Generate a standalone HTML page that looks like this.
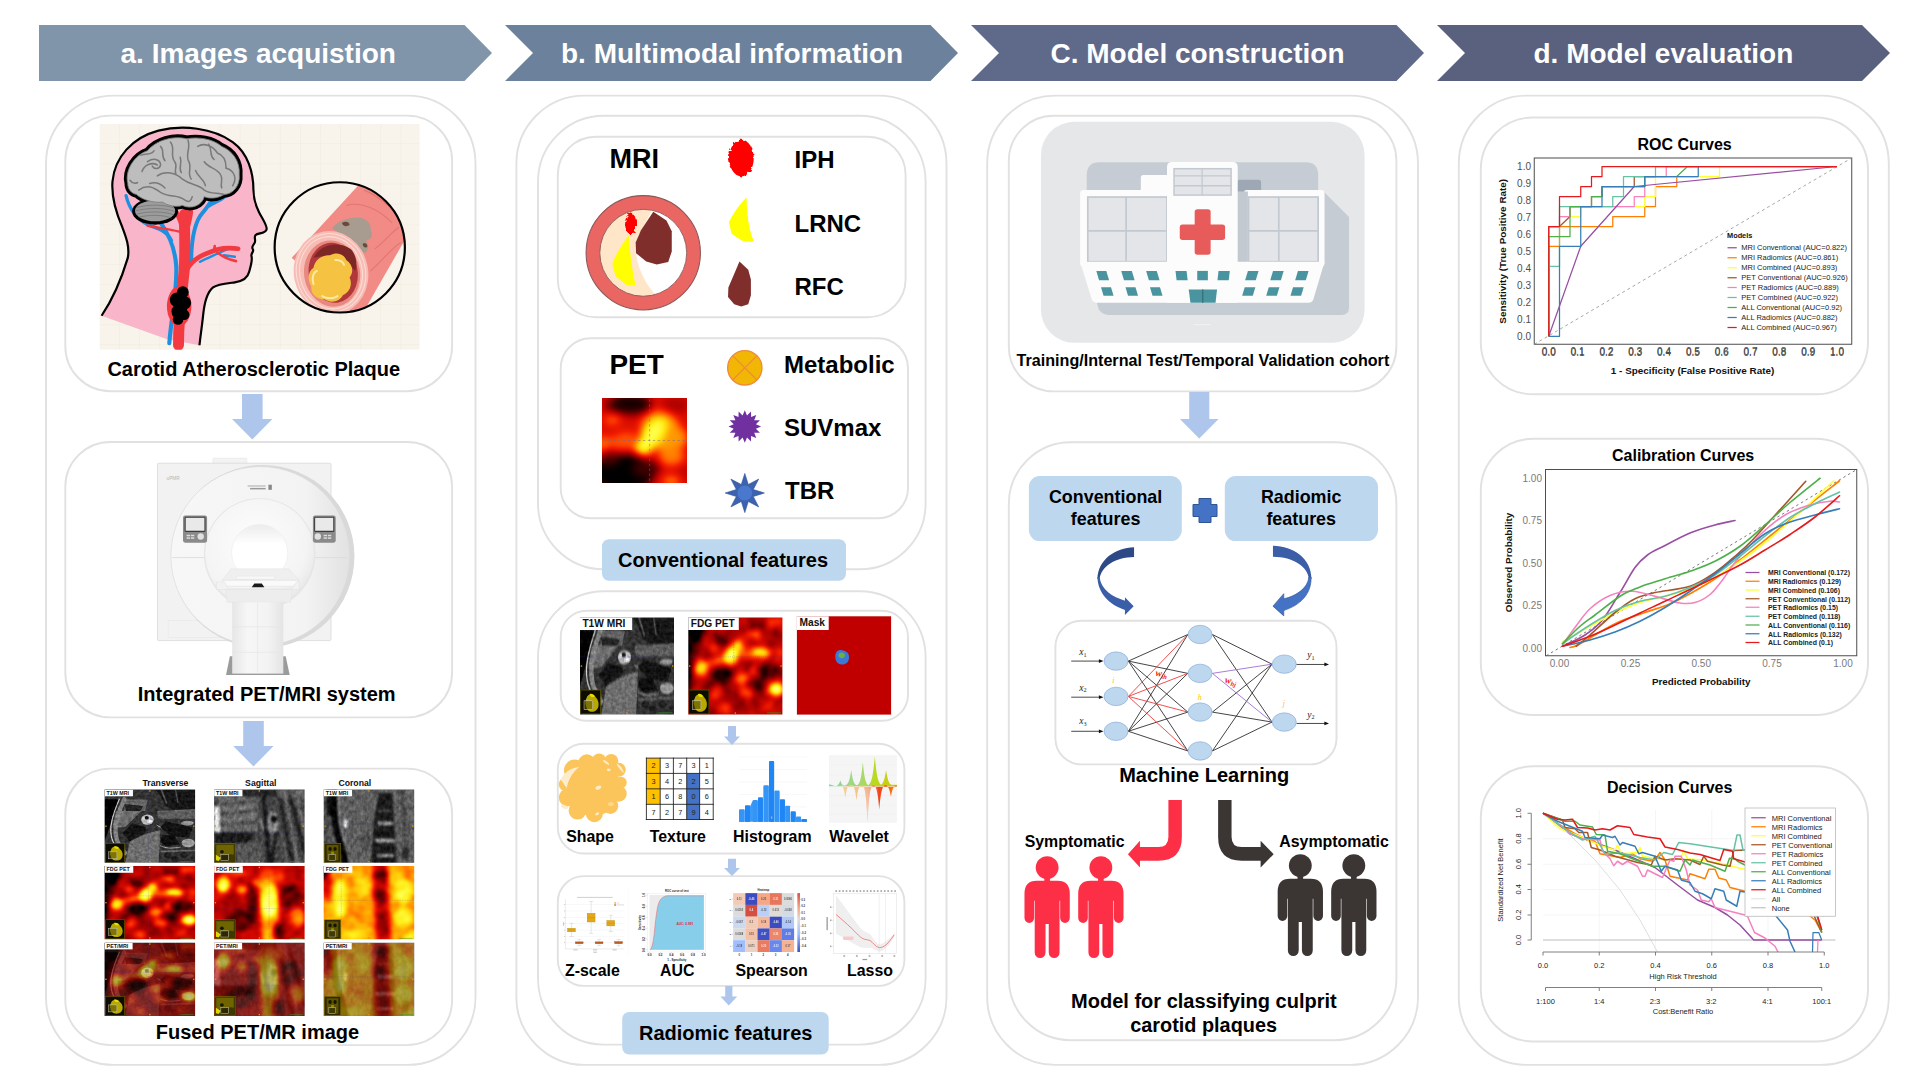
<!DOCTYPE html>
<html><head><meta charset="utf-8"><title>Workflow</title>
<style>
html,body{margin:0;padding:0;background:#fff;}
body{width:1920px;height:1080px;overflow:hidden;font-family:"Liberation Sans",sans-serif;}
svg text{font-family:"Liberation Sans",sans-serif;}
.b{font-weight:bold;}
.box{fill:#fff;stroke:#e1e1e1;stroke-width:1.9;}
</style></head><body>
<svg width="1920" height="1080" viewBox="0 0 1920 1080" style="display:block">
<!-- ===== header chevrons ===== -->
<polygon points="39,25 464.5,25 492,53 464.5,81 39,81" fill="#8094aa"/>
<polygon points="505,25 930.5,25 958,53 930.5,81 505,81 533,53" fill="#6c819c"/>
<polygon points="971,25 1396.5,25 1424,53 1396.5,81 971,81 999,53" fill="#5f6a8a"/>
<polygon points="1437,25 1862,25 1890,53 1862,81 1437,81 1465,53" fill="#59617f"/>
<g class="b" font-size="28" fill="#fff">
<text x="120.5" y="63">a. Images acquistion</text>
<text x="561" y="63">b. Multimodal information</text>
<text x="1050.5" y="63">C. Model construction</text>
<text x="1533.5" y="63">d. Model evaluation</text>
</g>
<!-- ===== outer panels ===== -->
<rect class="box" x="46" y="95.6" width="429.5" height="969.3" rx="68"/>
<rect class="box" x="516.4" y="95.6" width="430.1" height="969.3" rx="68"/>
<rect class="box" x="987.2" y="95.6" width="430.8" height="969.3" rx="68"/>
<rect class="box" x="1458.8" y="95.6" width="430" height="969.3" rx="68"/>
<!-- panel a boxes -->
<rect class="box" x="65.3" y="115.6" width="386.8" height="275.6" rx="45"/>
<rect class="box" x="65.3" y="442" width="386.8" height="275.4" rx="45"/>
<rect class="box" x="65.3" y="768.6" width="386.8" height="276.5" rx="45"/>
<!-- panel b boxes -->
<rect class="box" x="538" y="115.8" width="387.6" height="453.5" rx="66"/>
<rect class="box" x="557.8" y="136.8" width="347.8" height="180.5" rx="38"/>
<rect class="box" x="560.7" y="338.2" width="347.3" height="180.1" rx="30"/>
<rect class="box" x="538" y="591.3" width="387.6" height="453.3" rx="66"/>
<rect class="box" x="560.7" y="610.8" width="347.3" height="110" rx="26"/>
<rect class="box" x="557.8" y="743.7" width="346.6" height="109.8" rx="26"/>
<rect class="box" x="557.8" y="876.1" width="346.6" height="109.8" rx="26"/>
<!-- panel c boxes -->
<rect class="box" x="1008.8" y="115.7" width="387.6" height="275.7" rx="45"/>
<rect class="box" x="1008.8" y="442.2" width="387.6" height="598" rx="62"/>
<rect class="box" x="1055.4" y="620.8" width="281.1" height="143.6" rx="26"/>
<!-- panel d boxes -->
<rect class="box" x="1480.8" y="117.5" width="387.2" height="276.8" rx="52"/>
<rect class="box" x="1480.8" y="438.8" width="387.2" height="276.2" rx="52"/>
<rect class="box" x="1480.8" y="766.3" width="387.2" height="275.2" rx="52"/>
<!-- ===== block arrows ===== -->
<g fill="#aec6ec">
<polygon points="242,394 262.6,394 262.6,419 272.4,419 252.3,439.4 232,419 242,419"/>
<polygon points="243.2,721 263.8,721 263.8,746 273.6,746 253.5,766.5 233.2,746 243.2,746"/>
<polygon points="1189.2,392 1209.3,392 1209.3,419 1218.6,419 1199.2,438.5 1179.9,419 1189.2,419"/>
<polygon points="728,726 736,726 736,736.5 740,736.5 732,745 724,736.5 728,736.5"/>
<polygon points="728,858.8 736,858.8 736,868 740,868 732,876 724,868 728,868"/>
<polygon points="725.2,986 732.4,986 732.4,996.4 737.2,996.4 728.8,1005.5 720.4,996.4 725.2,996.4"/>
</g>
<!-- ===== label pills ===== -->
<rect x="602" y="539.3" width="244" height="41.4" rx="7" fill="#bdd7ee"/>
<rect x="622.2" y="1012" width="206.5" height="42.6" rx="7" fill="#bdd7ee"/>
<rect x="1028.9" y="476" width="152.9" height="65.1" rx="11" fill="#bdd7ee"/>
<rect x="1224.8" y="476" width="153.2" height="65.1" rx="11" fill="#bdd7ee"/>
<!-- ===== main labels ===== -->
<g class="b" fill="#000">
<g font-size="20">
<text x="107.4" y="375.8">Carotid Atherosclerotic Plaque</text>
<text x="137.8" y="700.5">Integrated PET/MRI system</text>
<text x="155.8" y="1039.2">Fused PET/MR image</text>
<text x="618" y="566.7">Conventional features</text>
<text x="639" y="1039.8">Radiomic features</text>
<text x="1119.2" y="781.8">Machine Learning</text>
<text x="1071.1" y="1008.1">Model for classifying culprit</text>
<text x="1130.3" y="1032.1" font-size="19.85">carotid plaques</text>
</g>
<text x="609.5" y="168" font-size="27">MRI</text>
<text x="609.5" y="374" font-size="27.9">PET</text>
<g font-size="24">
<text x="794.5" y="168.3">IPH</text>
<text x="794.5" y="231.6">LRNC</text>
<text x="794.5" y="295.2">RFC</text>
<text x="784" y="372.8">Metabolic</text>
<text x="784" y="436">SUVmax</text>
<text x="785" y="499">TBR</text>
</g>
<g font-size="15.9">
<text x="566.2" y="842">Shape</text>
<text x="649.7" y="842">Texture</text>
<text x="733" y="842">Histogram</text>
<text x="829.3" y="842">Wavelet</text>
<text x="565" y="975.6">Z-scale</text>
<text x="660" y="975.6">AUC</text>
<text x="735.4" y="975.6">Spearson</text>
<text x="847" y="975.6">Lasso</text>
<text x="1024.7" y="846.5">Symptomatic</text>
<text x="1279.3" y="846.5">Asymptomatic</text>
</g>
<text x="1016.6" y="366" font-size="16.13">Training/Internal Test/Temporal Validation cohort</text>
<g font-size="17.9" text-anchor="middle">
<text x="1105.6" y="503">Conventional</text>
<text x="1105.6" y="525.2">features</text>
<text x="1301.2" y="503">Radiomic</text>
<text x="1301.2" y="525.2">features</text>
</g>
<g font-size="16">
<text x="1637.5" y="149.6">ROC Curves</text>
<text x="1612" y="460.6">Calibration Curves</text>
<text x="1607" y="793.2">Decision Curves</text>
</g>
</g>

<!-- ===== panel a: head + plaque illustration ===== -->
<svg x="95" y="118" width="330" height="236" viewBox="0 0 1510 1080">
<defs>
<pattern id="gridp" width="92" height="92" patternUnits="userSpaceOnUse" x="22" y="28"><path d="M92 0V92M0 92H92" stroke="#ece6d8" stroke-width="3" fill="none"/></pattern>
<clipPath id="insetc"><circle cx="1120" cy="592" r="296"/></clipPath>
<clipPath id="imgc"><rect x="22" y="28" width="1463" height="1032"/></clipPath>
</defs>
<rect x="22" y="28" width="1463" height="1032" fill="#f8f4ec"/>
<rect x="22" y="28" width="1463" height="1032" fill="url(#gridp)"/>
<g clip-path="url(#imgc)">
<!-- head fill -->
<path d="M30,905C80,830 120,740 150,640C160,590 140,540 125,500C95,430 75,350 80,290C90,180 170,90 290,58C400,30 540,45 630,110C700,160 725,250 725,330C725,370 735,400 750,430C765,460 790,495 785,510C780,530 745,525 735,535C725,545 738,560 730,572C722,585 715,590 722,600C730,610 712,620 716,632C722,650 712,680 705,705C698,735 670,748 640,752C600,757 560,760 540,775C510,800 500,850 495,900C490,950 482,1000 478,1040L330,1012Z" fill="#f9b5c9"/>
<!-- veins behind -->
<g fill="none" stroke="#1e90e0" stroke-linecap="round">
<path d="M142,355C155,410 190,460 240,488C290,505 330,520 350,560" stroke-width="15"/>
<path d="M295,472C330,520 365,580 372,680C376,800 350,900 340,1030" stroke-width="19"/>
<path d="M600,355C570,380 540,388 520,402M537,365C530,395 500,420 480,450C450,500 440,580 440,665" stroke-width="18"/>
<path d="M480,658C520,640 560,620 600,602L640,592M590,628L640,635" stroke-width="11"/>
</g>
<!-- arteries -->
<g fill="none" stroke="#f23a40" stroke-linecap="round">
<path d="M382,1040C382,900 398,800 408,700C414,600 408,500 410,440" stroke-width="50"/>
<path d="M405,530C398,490 388,455 372,432M416,530C426,490 436,455 438,428" stroke-width="22"/>
<path d="M420,695C450,640 500,622 560,602C600,592 630,595 655,598" stroke-width="21"/>
<path d="M545,605L548,586M560,615C590,640 620,650 645,655" stroke-width="12"/>
<path d="M240,492C280,502 330,505 385,520" stroke-width="11"/>
</g>
<ellipse cx="385" cy="862" rx="56" ry="92" fill="#f23a40"/>
<g fill="#000"><circle cx="402" cy="797" r="27"/><circle cx="375" cy="832" r="33"/><circle cx="410" cy="846" r="30"/><circle cx="386" cy="886" r="36"/><circle cx="408" cy="900" r="24"/><circle cx="380" cy="922" r="24"/></g>
<!-- brain -->
<ellipse cx="275" cy="427" rx="105" ry="61" fill="#000"/>
<path d="M150,300C135,240 180,170 240,150C280,100 360,80 420,95C470,85 540,95 580,130C630,150 665,200 660,260C665,310 630,350 590,350C560,370 520,370 500,360C490,400 440,420 400,400C370,410 330,400 310,385C260,390 210,370 190,350C165,345 150,325 150,300Z" fill="#bdbdbd" stroke="#000" stroke-width="30" stroke-linejoin="round"/>
<ellipse cx="275" cy="425" rx="92" ry="48" fill="#9c9c9c"/>
<g fill="none" stroke="#6f6f6f" stroke-width="3"><path d="M190,410C240,395 320,395 362,412M186,425C240,410 320,410 366,428M190,440C240,426 320,426 362,444M200,454C250,442 310,442 350,458"/></g>
<path d="M150,300C135,240 180,170 240,150C280,100 360,80 420,95C470,85 540,95 580,130C630,150 665,200 660,260C665,310 630,350 590,350C560,370 520,370 500,360C490,400 440,420 400,400C370,410 330,400 310,385C260,390 210,370 190,350C165,345 150,325 150,300Z" fill="#bdbdbd" stroke="#7d7d7d" stroke-width="4"/>
<g fill="none" stroke="#7a7a7a" stroke-width="7" stroke-linecap="round">
<path d="M285,265C320,240 370,250 400,280C440,310 470,300 500,330C530,350 560,340 590,350"/>
<path d="M200,330C240,300 270,320 300,340C340,365 380,350 410,375C430,390 440,380 445,360"/>
<path d="M345,110C370,140 340,170 365,200C380,220 360,240 370,255"/>
<path d="M425,100C440,140 410,170 430,200C445,230 420,250 440,280"/>
<path d="M470,130C500,110 540,130 560,160C590,170 600,200 600,230"/>
<path d="M240,200C270,180 300,190 300,215C295,235 270,235 262,220M215,245C225,215 260,200 285,215"/>
<path d="M600,230C640,240 650,280 630,310M160,285C170,300 185,300 195,295"/>
<path d="M300,130C320,150 300,175 320,195M500,200C520,230 560,230 575,260C590,285 570,300 580,320M460,240C470,270 500,280 505,310M250,300C280,290 300,300 320,320M520,120C540,150 520,170 545,190M390,180C400,210 380,230 395,250M210,170C240,160 260,170 270,150"/>
</g>
<!-- head outline -->
<path d="M30,905C80,830 120,740 150,640C160,590 140,540 125,500C95,430 75,350 80,290C90,180 170,90 290,58C400,30 540,45 630,110C700,160 725,250 725,330C725,370 735,400 750,430C765,460 790,495 785,510C780,530 745,525 735,535C725,545 738,560 730,572C722,585 715,590 722,600C730,610 712,620 716,632C722,650 712,680 705,705C698,735 670,748 640,752C600,757 560,760 540,775C510,800 500,850 495,900C490,950 482,1000 478,1040" fill="none" stroke="#000" stroke-width="10" stroke-linejoin="round"/>
</g>
<!-- inset -->
<circle cx="1120" cy="592" r="298" fill="#f8f4ec"/>
<g clip-path="url(#insetc)">
<path d="M900,640L1240,270L1480,450L1210,920Z" fill="#f28b86"/>
<g fill="none" stroke="#e0706c" stroke-width="5" opacity=".8"><path d="M1150,400C1220,380 1300,420 1360,480M1230,330C1290,350 1340,400 1390,440M1280,600C1330,560 1360,520 1390,500M1260,700C1310,660 1350,600 1400,570"/></g>
<path d="M1085,505C1110,470 1160,455 1200,455C1240,455 1265,480 1262,515C1275,540 1260,560 1240,560C1260,590 1250,615 1230,618L1160,560Z" fill="#a89b8f"/>
<path d="M1130,480C1145,470 1165,475 1165,490C1150,500 1135,495 1130,480Z M1225,575C1240,570 1250,580 1245,592C1232,595 1225,588 1225,575Z" fill="#6b4a3a"/>
<ellipse cx="1080" cy="708" rx="170" ry="192" transform="rotate(-12 1080 708)" fill="#f7bdb5"/>
<g fill="none" stroke="#fbdcd5" stroke-width="5"><ellipse cx="1080" cy="708" rx="158" ry="180" transform="rotate(-12 1080 708)"/><ellipse cx="1080" cy="708" rx="143" ry="166" transform="rotate(-12 1080 708)"/></g>
<ellipse cx="1085" cy="712" rx="128" ry="152" transform="rotate(-10 1085 712)" fill="#e98880"/>
<ellipse cx="1090" cy="708" rx="112" ry="138" transform="rotate(-10 1090 708)" fill="#b0383a"/>
<path d="M1000,640C1030,580 1110,560 1170,600C1200,630 1200,680 1190,700C1150,640 1060,620 1000,640Z" fill="#7c2626"/>
<path d="M1075,628C1110,610 1140,625 1150,650C1180,670 1185,705 1165,730C1180,760 1165,800 1135,810C1120,840 1080,850 1050,830C1015,830 985,805 990,770C970,740 975,700 1000,685C1005,650 1040,625 1075,628Z" fill="#f5c242"/>
<path d="M1000,760C990,730 1000,705 1015,700M1040,815C1060,828 1090,828 1110,815M1100,650C1120,650 1135,660 1140,672" fill="none" stroke="#fde9a8" stroke-width="9" stroke-linecap="round"/>
</g>
<circle cx="1120" cy="592" r="298" fill="none" stroke="#000" stroke-width="10"/>
</svg>

<!-- ===== panel a: PET/MRI machine ===== -->
<svg x="150" y="450" width="220" height="230" viewBox="0 0 1033 1080">
<defs>
<linearGradient id="mg1" x1="0" y1="0" x2="1" y2="0"><stop offset="0" stop-color="#f7f7f7"/><stop offset=".75" stop-color="#f3f3f3"/><stop offset="1" stop-color="#e2e2e2"/></linearGradient>
<radialGradient id="mg2" cx=".45" cy=".4" r=".6"><stop offset="0" stop-color="#fdfdfd"/><stop offset=".8" stop-color="#f4f4f4"/><stop offset="1" stop-color="#e9e9e9"/></radialGradient>
<linearGradient id="mg3" x1="0" y1="0" x2="0" y2="1"><stop offset="0" stop-color="#ececec"/><stop offset=".35" stop-color="#fff"/><stop offset="1" stop-color="#fff"/></linearGradient>
<linearGradient id="mg4" x1="0" y1="0" x2="1" y2="0"><stop offset="0" stop-color="#e6e6e6"/><stop offset=".3" stop-color="#f6f6f6"/><stop offset=".7" stop-color="#f3f3f3"/><stop offset="1" stop-color="#e4e4e4"/></linearGradient>
</defs>
<rect x="295" y="38" width="160" height="30" rx="4" fill="#f3f3f3" stroke="#e2e2e2" stroke-width="2"/>
<rect x="35" y="62" width="815" height="833" rx="6" fill="#f2f2f2" stroke="#d6d6d6" stroke-width="3.5"/>
<rect x="85" y="800" width="300" height="80" fill="none" stroke="#e4e4e4" stroke-width="2"/>
<text x="78" y="140" font-size="22" fill="#b5b5b5">uPMR</text>
<circle cx="530" cy="500" r="430" fill="#d9d9d9"/>
<circle cx="518" cy="498" r="420" fill="url(#mg1)" stroke="#dadada" stroke-width="3"/>
<path d="M105,505H925" stroke="#dcdcdc" stroke-width="4"/>
<rect x="458" y="166" width="85" height="6" fill="#bbb"/><rect x="470" y="178" width="73" height="7" fill="#999"/><rect x="556" y="163" width="16" height="24" fill="#888"/>
<circle cx="515" cy="488" r="262" fill="#e6e6e6"/>
<circle cx="515" cy="486" r="258" fill="url(#mg2)" stroke="#e3e3e3" stroke-width="3"/>
<circle cx="515" cy="482" r="132" fill="url(#mg3)" stroke="#ececec" stroke-width="3"/>
<!-- control panels -->
<rect x="155" y="308" width="113" height="127" rx="10" fill="#8a8a8a"/><rect x="165" y="316" width="93" height="66" rx="3" fill="#e9e9e9" stroke="#3c3c3c" stroke-width="5"/><circle cx="238" cy="406" r="15" fill="#e0e0e0"/><rect x="172" y="398" width="16" height="7" fill="#ddd"/><rect x="192" y="398" width="16" height="7" fill="#ddd"/><rect x="172" y="410" width="16" height="7" fill="#ddd"/><rect x="192" y="410" width="16" height="7" fill="#ddd"/>
<rect x="765" y="308" width="107" height="127" rx="10" fill="#8a8a8a"/><rect x="773" y="316" width="90" height="66" rx="3" fill="#e9e9e9" stroke="#3c3c3c" stroke-width="5"/><circle cx="788" cy="406" r="15" fill="#e0e0e0"/><rect x="815" y="398" width="16" height="7" fill="#ddd"/><rect x="835" y="398" width="16" height="7" fill="#ddd"/><rect x="815" y="410" width="16" height="7" fill="#ddd"/><rect x="835" y="410" width="16" height="7" fill="#ddd"/>
<!-- table -->
<path d="M380,558H652L700,612H338Z" fill="#efefef" stroke="#e0e0e0" stroke-width="2"/>
<rect x="405" y="592" width="180" height="14" fill="#f8f8f8" stroke="#e2e2e2" stroke-width="2"/>
<path d="M338,612H700L672,640H360Z" fill="#fafafa" stroke="#d8d8d8" stroke-width="2"/>
<path d="M312,620H350L365,650H668L690,620H700V655H312Z" fill="#f2f2f2" stroke="#dfdfdf" stroke-width="2"/>
<path d="M478,645L490,627H525L537,645Z" fill="#1a1a1a"/>
<path d="M355,655H668L660,715H362Z" fill="#ededed" stroke="#e0e0e0" stroke-width="2"/>
<path d="M375,968H637L656,1056H357Z" fill="#9b9b9b"/>
<rect x="386" y="715" width="240" height="335" fill="url(#mg4)"/>
<path d="M386,830H626M386,950H626M505,715V1050" stroke="#e4e4e4" stroke-width="3"/>
</svg>

<!-- ===== filters for medical images ===== -->
<defs>
<filter id="hotf" x="-80" y="-80" width="703" height="599" filterUnits="userSpaceOnUse" color-interpolation-filters="sRGB">
<feGaussianBlur in="SourceGraphic" stdDeviation="17" result="b"/>
<feTurbulence type="fractalNoise" baseFrequency="0.011 0.013" numOctaves="2" seed="7" result="n"/>
<feColorMatrix in="n" type="matrix" values="1 0 0 0 0 1 0 0 0 0 1 0 0 0 0 0 0 0 0 1" result="ng"/>
<feComposite in="b" in2="ng" operator="arithmetic" k1="0" k2="1" k3="0.3" k4="-0.15" result="m"/>
<feComponentTransfer in="m">
<feFuncR type="table" tableValues="0 .32 .6 .82 .95 1 1 1 1 1 1"/>
<feFuncG type="table" tableValues="0 0 0 .03 .12 .32 .55 .78 .93 1 1"/>
<feFuncB type="table" tableValues="0 0 0 0 0 0 0 .03 .1 .3 .6"/>
</feComponentTransfer>
</filter>
<filter id="mrif" x="-80" y="-80" width="703" height="599" filterUnits="userSpaceOnUse" color-interpolation-filters="sRGB">
<feGaussianBlur in="SourceGraphic" stdDeviation="4.5" result="b"/>
<feTurbulence type="fractalNoise" baseFrequency="0.05 0.06" numOctaves="3" seed="3" result="n"/>
<feColorMatrix in="n" type="matrix" values="1 0 0 0 0 1 0 0 0 0 1 0 0 0 0 0 0 0 0 1" result="ng"/>
<feComposite in="b" in2="ng" operator="arithmetic" k1="0.3" k2="0.85" k3="0.16" k4="-0.08"/>
</filter>
<filter id="mrif2" x="-80" y="-80" width="703" height="599" filterUnits="userSpaceOnUse" color-interpolation-filters="sRGB">
<feGaussianBlur in="SourceGraphic" stdDeviation="5" result="b"/>
<feTurbulence type="fractalNoise" baseFrequency="0.05 0.032" numOctaves="3" seed="11" result="n"/>
<feColorMatrix in="n" type="matrix" values="1 0 0 0 0 1 0 0 0 0 1 0 0 0 0 0 0 0 0 1" result="ng"/>
<feComposite in="b" in2="ng" operator="arithmetic" k1="0.4" k2="0.8" k3="0.16" k4="-0.08"/>
</filter>

<symbol id="mT" viewBox="0 0 543 439" preserveAspectRatio="none"><g filter="url(#mrif)"><rect x="-80" y="-80" width="703" height="599" fill="#333333"/><polygon points="123,60 259,60 243,128 118,128" fill="#666666"/><polygon points="118,86 232,99 215,128 129,128" fill="#212121"/><polygon points="69,128 221,128 123,226 48,226" fill="#6e6e6e"/><polygon points="307,0 543,0 543,116 421,128 362,94 335,39" fill="#171717"/><path d="M340,0 L372,80" fill="none" stroke="#545454" stroke-width="10" stroke-linecap="round"/><path d="M425,0 L440,75" fill="none" stroke="#474747" stroke-width="9" stroke-linecap="round"/><polygon points="313,128 543,116 543,175 324,175" fill="#5e5e5e"/><polygon points="0,58 88,58 0,311" fill="#000000"/><path d="M118,58 C69,167 53,226 75,307 C85,330 100,350 123,380" fill="none" stroke="#808080" stroke-width="26" stroke-linecap="round"/><path d="M88,58 C42,167 29,226 42,286 C50,320 70,350 95,400" fill="none" stroke="#cccccc" stroke-width="7" stroke-linecap="round"/><polygon points="167,201 248,226 243,260 151,311 107,260" fill="#141414"/><polygon points="151,311 248,265 335,243 324,445 123,445" fill="#6e6e6e"/><ellipse cx="257" cy="180" rx="38" ry="31" fill="#c2c2c2"/><ellipse cx="253" cy="169" rx="12" ry="11" fill="#0f0f0f"/><ellipse cx="268" cy="190" rx="14" ry="10" fill="#e6e6e6"/><path d="M313,213 L367,243 L400,265" fill="none" stroke="#b2b2b2" stroke-width="5" stroke-linecap="round"/><polygon points="367,192 529,226 508,286 400,282 335,226" fill="#121212"/><ellipse cx="497" cy="201" rx="38" ry="14" fill="#999999"/><ellipse cx="502" cy="320" rx="40" ry="25" fill="#999999"/><polygon points="345,269 421,277 448,328 367,341 335,311" fill="#0f0f0f"/><path d="M335,337 C360,350 400,356 454,345" fill="none" stroke="#b2b2b2" stroke-width="5" stroke-linecap="round"/><ellipse cx="378" cy="396" rx="22" ry="17" fill="#1f1f1f"/><ellipse cx="421" cy="415" rx="22" ry="17" fill="#1f1f1f"/><ellipse cx="475" cy="392" rx="22" ry="17" fill="#1f1f1f"/><ellipse cx="520" cy="420" rx="20" ry="15" fill="#262626"/><path d="M340,370 L543,365" fill="none" stroke="#666666" stroke-width="10" stroke-linecap="round"/></g></symbol>
<symbol id="mS" viewBox="0 0 543 439" preserveAspectRatio="none"><g filter="url(#mrif2)"><rect x="-80" y="-80" width="703" height="599" fill="#454545"/><polygon points="170,0 380,0 380,45 170,45" fill="#262626"/><polygon points="380,0 543,0 543,55 380,50" fill="#616161"/><polygon points="26,42 263,42 263,255 26,262" fill="#666666"/><path d="M40,90 L250,70 M30,150 L255,125 M40,215 L255,190" fill="none" stroke="#474747" stroke-width="12" stroke-linecap="round"/><path d="M60,120 L240,100 M60,185 L250,160" fill="none" stroke="#808080" stroke-width="8" stroke-linecap="round"/><polygon points="0,100 30,100 38,300 0,310" fill="#e6e6e6"/><polygon points="0,270 25,275 20,330 0,335" fill="#d9d9d9"/><polygon points="0,258 257,255 200,318 0,325" fill="#1a1a1a"/><polygon points="128,320 296,320 296,445 128,445" fill="#545454"/><polygon points="0,330 128,322 128,445 0,445" fill="#383838"/><path d="M298,48 L332,445" fill="none" stroke="#141414" stroke-width="24" stroke-linecap="round"/><path d="M280,177 L292,236" fill="none" stroke="#ebebeb" stroke-width="6" stroke-linecap="round"/><ellipse cx="352" cy="200" rx="34" ry="70" fill="#858585"/><ellipse cx="360" cy="177" rx="19" ry="19" fill="#050505"/><path d="M372,262 C362,320 352,370 348,445" fill="none" stroke="#1a1a1a" stroke-width="18" stroke-linecap="round"/><path d="M395,60 L470,445 M455,40 L543,380" fill="none" stroke="#1f1f1f" stroke-width="20" stroke-linecap="round"/><path d="M430,60 L505,445 M500,60 L543,250" fill="none" stroke="#757575" stroke-width="13" stroke-linecap="round"/><path d="M405,250 L440,445" fill="none" stroke="#5c5c5c" stroke-width="10" stroke-linecap="round"/></g></symbol>
<symbol id="mC" viewBox="0 0 543 439" preserveAspectRatio="none"><g filter="url(#mrif2)"><rect x="-80" y="-80" width="703" height="599" fill="#5e5e5e"/><polygon points="0,0 36,0 36,445 0,445" fill="#474747"/><path d="M62,-10 C55,120 62,220 100,330 C115,370 125,410 130,450" fill="none" stroke="#050505" stroke-width="40" stroke-linecap="round"/><path d="M92,0 C84,120 92,220 128,330" fill="none" stroke="#a8a8a8" stroke-width="6" stroke-linecap="round"/><path d="M30,-10 C28,60 30,100 34,150" fill="none" stroke="#080808" stroke-width="20" stroke-linecap="round"/><ellipse cx="131" cy="203" rx="12" ry="28" fill="#e0e0e0"/><polygon points="330,20 410,20 440,445 285,445 300,200" fill="#1a1a1a"/><polygon points="325,192 412,192 415,214 323,214" fill="#999999"/><polygon points="312,295 425,295 428,318 310,318" fill="#9e9e9e"/><polygon points="322,385 418,385 420,405 320,405" fill="#858585"/><polygon points="330,120 400,120 402,134 329,134" fill="#4c4c4c"/><path d="M470,0 L500,445" fill="none" stroke="#3d3d3d" stroke-width="14" stroke-linecap="round"/><path d="M520,180 L543,160" fill="none" stroke="#808080" stroke-width="5" stroke-linecap="round"/><ellipse cx="490" cy="380" rx="18" ry="40" fill="#1f1f1f"/><ellipse cx="250" cy="300" rx="25" ry="60" fill="#4c4c4c"/></g></symbol>
<symbol id="pT" viewBox="0 0 543 439" preserveAspectRatio="none"><g filter="url(#hotf)"><rect x="-80" y="-80" width="703" height="599" fill="#3b3b3b"/><polygon points="-80,-80 95,-80 95,50 48,167 28,243 14,340 -80,360" fill="#000000"/><path d="M72,226 L245,175" fill="none" stroke="#8c8c8c" stroke-width="40" stroke-linecap="round"/><path d="M245,170 L425,156" fill="none" stroke="#a8a8a8" stroke-width="32" stroke-linecap="round"/><ellipse cx="202" cy="99" rx="40" ry="18" fill="#0d0d0d"/><ellipse cx="202" cy="252" rx="62" ry="40" fill="#0a0a0a"/><ellipse cx="463" cy="243" rx="66" ry="35" fill="#0d0d0d"/><ellipse cx="397" cy="303" rx="50" ry="27" fill="#0d0d0d"/><ellipse cx="311" cy="396" rx="34" ry="22" fill="#212121"/><ellipse cx="408" cy="31" rx="44" ry="22" fill="#242424"/><ellipse cx="120" cy="300" rx="30" ry="30" fill="#262626"/><ellipse cx="387" cy="77" rx="40" ry="18" fill="#9e9e9e"/><ellipse cx="305" cy="277" rx="33" ry="26" fill="#9e9e9e"/><ellipse cx="338" cy="341" rx="44" ry="22" fill="#999999"/><ellipse cx="159" cy="350" rx="28" ry="26" fill="#808080"/><ellipse cx="213" cy="413" rx="28" ry="18" fill="#8f8f8f"/><ellipse cx="148" cy="137" rx="28" ry="18" fill="#808080"/><ellipse cx="381" cy="239" rx="17" ry="22" fill="#808080"/><ellipse cx="500" cy="22" rx="52" ry="22" fill="#8c8c8c"/><ellipse cx="530" cy="170" rx="30" ry="40" fill="#737373"/><ellipse cx="470" cy="400" rx="40" ry="25" fill="#666666"/><ellipse cx="245" cy="175" rx="36" ry="40" fill="#f7f7f7" transform="rotate(25 245 175)"/><ellipse cx="289" cy="128" rx="30" ry="25" fill="#dbdbdb"/><ellipse cx="425" cy="156" rx="46" ry="18" fill="#ffffff"/><ellipse cx="72" cy="226" rx="33" ry="35" fill="#dbdbdb"/><ellipse cx="506" cy="324" rx="46" ry="27" fill="#fcfcfc"/></g></symbol>
<symbol id="pS" viewBox="0 0 543 439" preserveAspectRatio="none"><g filter="url(#hotf)"><rect x="-80" y="-80" width="703" height="599" fill="#454545"/><ellipse cx="55" cy="110" rx="36" ry="48" fill="#ebebeb"/><path d="M320,120 L345,460" fill="none" stroke="#a8a8a8" stroke-width="110" stroke-linecap="round"/><ellipse cx="330" cy="215" rx="52" ry="95" fill="#f2f2f2"/><ellipse cx="350" cy="60" rx="80" ry="40" fill="#808080"/><ellipse cx="235" cy="210" rx="38" ry="130" fill="#1a1a1a"/><ellipse cx="455" cy="180" rx="65" ry="70" fill="#1a1a1a"/><ellipse cx="390" cy="400" rx="38" ry="60" fill="#1a1a1a"/><ellipse cx="140" cy="330" rx="85" ry="70" fill="#1f1f1f"/><ellipse cx="520" cy="60" rx="50" ry="50" fill="#4c4c4c"/><ellipse cx="170" cy="140" rx="32" ry="28" fill="#a8a8a8"/><ellipse cx="255" cy="100" rx="25" ry="22" fill="#999999"/><ellipse cx="500" cy="310" rx="45" ry="60" fill="#8c8c8c"/><ellipse cx="60" cy="250" rx="60" ry="35" fill="#333333"/><ellipse cx="40" cy="400" rx="50" ry="50" fill="#4c4c4c"/><ellipse cx="120" cy="40" rx="70" ry="25" fill="#737373"/></g></symbol>
<symbol id="pC" viewBox="0 0 543 439" preserveAspectRatio="none"><g filter="url(#hotf)"><rect x="-80" y="-80" width="703" height="599" fill="#a1a1a1"/><polygon points="-80,-80 40,-80 30,90 -80,100" fill="#000000"/><ellipse cx="20" cy="130" rx="28" ry="80" fill="#404040"/><path d="M335,-20 L360,460" fill="none" stroke="#424242" stroke-width="85" stroke-linecap="round"/><ellipse cx="340" cy="60" rx="45" ry="40" fill="#1a1a1a"/><ellipse cx="345" cy="180" rx="45" ry="30" fill="#1f1f1f"/><ellipse cx="350" cy="290" rx="45" ry="28" fill="#262626"/><ellipse cx="355" cy="390" rx="40" ry="30" fill="#2e2e2e"/><ellipse cx="100" cy="200" rx="38" ry="110" fill="#e6e6e6"/><ellipse cx="480" cy="150" rx="55" ry="70" fill="#d9d9d9"/><ellipse cx="470" cy="310" rx="50" ry="60" fill="#d1d1d1"/><ellipse cx="230" cy="120" rx="50" ry="60" fill="#bfbfbf"/><ellipse cx="230" cy="380" rx="60" ry="50" fill="#b2b2b2"/><ellipse cx="160" cy="420" rx="70" ry="30" fill="#c7c7c7"/><ellipse cx="520" cy="420" rx="40" ry="30" fill="#cccccc"/><ellipse cx="430" cy="60" rx="40" ry="40" fill="#bfbfbf"/></g></symbol>
<symbol id="thA" viewBox="0 0 100 100" preserveAspectRatio="none"><rect width="100" height="100" fill="#0d0c00" stroke="#7d7000" stroke-width="4"/><path d="M30,35C35,15 65,12 75,30C95,45 95,80 70,88C50,95 30,85 28,65C22,55 25,42 30,35Z" fill="#b8a800"/><path d="M45,18C55,14 66,18 70,28C60,32 48,30 45,18Z" fill="#e8dc00"/><rect x="18" y="45" width="42" height="36" fill="#5a5200" fill-opacity=".6" stroke="#c9c9c9" stroke-width="2.5"/></symbol>
<symbol id="thB" viewBox="0 0 100 100" preserveAspectRatio="none"><rect width="100" height="100" fill="#3f3900" stroke="#8a7c00" stroke-width="4"/><path d="M8,8H92V60C70,50 50,70 30,62L8,80Z" fill="#6e6400"/><path d="M6,60L30,75L20,92L6,88Z" fill="#e2d600"/><circle cx="35" cy="45" r="9" fill="#1a1700"/><rect x="30" y="58" width="36" height="32" fill="#1a1700" fill-opacity=".5" stroke="#d0d0d0" stroke-width="2.5"/></symbol>
<symbol id="thC" viewBox="0 0 100 100" preserveAspectRatio="none"><rect width="100" height="100" fill="#2e2900" stroke="#8a7c00" stroke-width="4"/><path d="M15,10H85V90H15Z" fill="#5c5300"/><circle cx="35" cy="30" r="10" fill="#171500"/><circle cx="65" cy="30" r="10" fill="#171500"/><path d="M42,45H58V60H42Z" fill="#9a8d00"/><rect x="28" y="58" width="38" height="32" fill="#1a1700" fill-opacity=".4" stroke="#d0d0d0" stroke-width="2.5"/></symbol>
</defs>
<!-- ===== panel a: 3x3 grid ===== -->
<g class="b" font-size="8.7" text-anchor="middle" fill="#111"><text x="165.5" y="785.5">Transverse</text><text x="260.8" y="785.5">Sagittal</text><text x="354.8" y="785.5">Coronal</text></g>
<svg x="104.6" y="789.6" width="90.5" height="73.2" viewBox="0 0 543 439" preserveAspectRatio="none" overflow="hidden">
<use href="#mT" width="543" height="439"/>
<path d="M262,0V439M0,178H543" stroke="#3b3bb0" stroke-width="2" stroke-dasharray="5 5" opacity=".7"/>
<g fill="#e09a00"><rect x="267.5" y="4" width="8" height="8"/><rect x="267.5" y="427" width="8" height="8"/><rect x="4" y="215.5" width="8" height="8"/><rect x="531" y="215.5" width="8" height="8"/></g>
<rect x="453" y="431" width="80" height="3" fill="#3a9a2a"/>
<use href="#thA" x="3" y="321" width="118" height="116"/>
<rect x="0" y="0" width="170" height="40" fill="#fff"/><text x="12" y="30" font-size="32" font-weight="bold" fill="#111">T1W MRI</text>
</svg>
<svg x="104.6" y="866.1" width="90.5" height="73.2" viewBox="0 0 543 439" preserveAspectRatio="none" overflow="hidden">
<use href="#pT" width="543" height="439"/>
<path d="M262,0V439M0,178H543" stroke="#3b3bb0" stroke-width="2" stroke-dasharray="5 5" opacity=".7"/>
<g fill="#e09a00"><rect x="267.5" y="4" width="8" height="8"/><rect x="267.5" y="427" width="8" height="8"/><rect x="4" y="215.5" width="8" height="8"/><rect x="531" y="215.5" width="8" height="8"/></g>
<rect x="453" y="431" width="80" height="3" fill="#3a9a2a"/>
<use href="#thA" x="3" y="321" width="118" height="116"/>
<rect x="0" y="0" width="172" height="40" fill="#fff"/><text x="12" y="30" font-size="32" font-weight="bold" fill="#111">FDG PET</text>
</svg>
<svg x="104.6" y="942.7" width="90.5" height="73.2" viewBox="0 0 543 439" preserveAspectRatio="none" overflow="hidden">
<use href="#mT" width="543" height="439"/><use href="#pT" width="543" height="439" opacity=".6"/>
<rect width="543" height="439" fill="#3a1000" opacity=".15"/>
<path d="M262,0V439M0,178H543" stroke="#3b3bb0" stroke-width="2" stroke-dasharray="5 5" opacity=".7"/>
<g fill="#e09a00"><rect x="267.5" y="4" width="8" height="8"/><rect x="267.5" y="427" width="8" height="8"/><rect x="4" y="215.5" width="8" height="8"/><rect x="531" y="215.5" width="8" height="8"/></g>
<rect x="453" y="431" width="80" height="3" fill="#3a9a2a"/>
<use href="#thA" x="3" y="321" width="118" height="116"/>
<rect x="0" y="0" width="168" height="40" fill="#fff"/><text x="12" y="30" font-size="32" font-weight="bold" fill="#111">PET/MRI</text>
</svg>
<svg x="214.1" y="789.6" width="90.5" height="73.2" viewBox="0 0 543 439" preserveAspectRatio="none" overflow="hidden">
<use href="#mS" width="543" height="439"/>
<path d="M330,0V439M0,255H543" stroke="#3b3bb0" stroke-width="2" stroke-dasharray="5 5" opacity=".7"/>
<g fill="#e09a00"><rect x="267.5" y="4" width="8" height="8"/><rect x="267.5" y="427" width="8" height="8"/><rect x="4" y="215.5" width="8" height="8"/><rect x="531" y="215.5" width="8" height="8"/></g>
<rect x="453" y="431" width="80" height="3" fill="#3a9a2a"/>
<use href="#thB" x="3" y="321" width="125" height="116"/>
<rect x="0" y="0" width="170" height="40" fill="#fff"/><text x="12" y="30" font-size="32" font-weight="bold" fill="#111">T1W MRI</text>
</svg>
<svg x="214.1" y="866.1" width="90.5" height="73.2" viewBox="0 0 543 439" preserveAspectRatio="none" overflow="hidden">
<use href="#pS" width="543" height="439"/>
<path d="M330,0V439M0,255H543" stroke="#3b3bb0" stroke-width="2" stroke-dasharray="5 5" opacity=".7"/>
<g fill="#e09a00"><rect x="267.5" y="4" width="8" height="8"/><rect x="267.5" y="427" width="8" height="8"/><rect x="4" y="215.5" width="8" height="8"/><rect x="531" y="215.5" width="8" height="8"/></g>
<rect x="453" y="431" width="80" height="3" fill="#3a9a2a"/>
<use href="#thB" x="3" y="321" width="125" height="116"/>
<rect x="0" y="0" width="172" height="40" fill="#fff"/><text x="12" y="30" font-size="32" font-weight="bold" fill="#111">FDG PET</text>
</svg>
<svg x="214.1" y="942.7" width="90.5" height="73.2" viewBox="0 0 543 439" preserveAspectRatio="none" overflow="hidden">
<use href="#mS" width="543" height="439"/><use href="#pS" width="543" height="439" opacity=".6"/>
<rect width="543" height="439" fill="#3a1000" opacity=".15"/>
<path d="M330,0V439M0,255H543" stroke="#3b3bb0" stroke-width="2" stroke-dasharray="5 5" opacity=".7"/>
<g fill="#e09a00"><rect x="267.5" y="4" width="8" height="8"/><rect x="267.5" y="427" width="8" height="8"/><rect x="4" y="215.5" width="8" height="8"/><rect x="531" y="215.5" width="8" height="8"/></g>
<rect x="453" y="431" width="80" height="3" fill="#3a9a2a"/>
<use href="#thB" x="3" y="321" width="125" height="116"/>
<rect x="0" y="0" width="168" height="40" fill="#fff"/><text x="12" y="30" font-size="32" font-weight="bold" fill="#111">PET/MRI</text>
</svg>
<svg x="323.7" y="789.6" width="90.5" height="73.2" viewBox="0 0 543 439" preserveAspectRatio="none" overflow="hidden">
<use href="#mC" width="543" height="439"/>
<path d="M105,0V439M0,205H543" stroke="#3b3bb0" stroke-width="2" stroke-dasharray="5 5" opacity=".7"/>
<g fill="#e09a00"><rect x="267.5" y="4" width="8" height="8"/><rect x="267.5" y="427" width="8" height="8"/><rect x="4" y="215.5" width="8" height="8"/><rect x="531" y="215.5" width="8" height="8"/></g>
<rect x="453" y="431" width="80" height="3" fill="#3a9a2a"/>
<use href="#thC" x="3" y="321" width="100" height="116"/>
<rect x="0" y="0" width="170" height="40" fill="#fff"/><text x="12" y="30" font-size="32" font-weight="bold" fill="#111">T1W MRI</text>
</svg>
<svg x="323.7" y="866.1" width="90.5" height="73.2" viewBox="0 0 543 439" preserveAspectRatio="none" overflow="hidden">
<use href="#pC" width="543" height="439"/>
<path d="M105,0V439M0,205H543" stroke="#3b3bb0" stroke-width="2" stroke-dasharray="5 5" opacity=".7"/>
<g fill="#e09a00"><rect x="267.5" y="4" width="8" height="8"/><rect x="267.5" y="427" width="8" height="8"/><rect x="4" y="215.5" width="8" height="8"/><rect x="531" y="215.5" width="8" height="8"/></g>
<rect x="453" y="431" width="80" height="3" fill="#3a9a2a"/>
<use href="#thC" x="3" y="321" width="100" height="116"/>
<rect x="0" y="0" width="172" height="40" fill="#fff"/><text x="12" y="30" font-size="32" font-weight="bold" fill="#111">FDG PET</text>
</svg>
<svg x="323.7" y="942.7" width="90.5" height="73.2" viewBox="0 0 543 439" preserveAspectRatio="none" overflow="hidden">
<use href="#mC" width="543" height="439"/><use href="#pC" width="543" height="439" opacity=".6"/>
<rect width="543" height="439" fill="#3a1000" opacity=".15"/>
<path d="M105,0V439M0,205H543" stroke="#3b3bb0" stroke-width="2" stroke-dasharray="5 5" opacity=".7"/>
<g fill="#e09a00"><rect x="267.5" y="4" width="8" height="8"/><rect x="267.5" y="427" width="8" height="8"/><rect x="4" y="215.5" width="8" height="8"/><rect x="531" y="215.5" width="8" height="8"/></g>
<rect x="453" y="431" width="80" height="3" fill="#3a9a2a"/>
<use href="#thC" x="3" y="321" width="100" height="116"/>
<rect x="0" y="0" width="168" height="40" fill="#fff"/><text x="12" y="30" font-size="32" font-weight="bold" fill="#111">PET/MRI</text>
</svg>
<!-- ===== panel b: MRI legend ===== -->
<svg x="575" y="130" width="200" height="190" viewBox="0 0 1137 1080">
<defs><clipPath id="lumc"><circle cx="388" cy="698" r="247"/></clipPath>
<filter id="fuzz" x="-20%" y="-20%" width="140%" height="140%"><feTurbulence type="fractalNoise" baseFrequency="0.045" numOctaves="2" seed="4"/><feDisplacementMap in="SourceGraphic" scale="26"/></filter></defs>
<circle cx="388" cy="698" r="325" fill="#e96663" stroke="#8c5757" stroke-width="6"/>
<circle cx="388" cy="698" r="247" fill="#ffe6c9"/>
<g clip-path="url(#lumc)">
<path d="M445,440C400,540 340,610 345,680C352,780 400,880 470,950L700,950L700,440Z" fill="#fff"/>
<path d="M445,465L520,515L550,575L550,690L530,750L465,765L405,748L347,700L345,640L375,570Z" fill="#7f2e2c"/>
<path d="M305,600C260,660 225,720 212,762L230,830L290,880L345,885C325,800 312,700 305,600Z" fill="#ffff00"/>
<ellipse cx="317" cy="533" rx="32" ry="60" fill="#ff0000" filter="url(#fuzz)"/>
</g>
<circle cx="388" cy="698" r="247" fill="none" stroke="#8c5757" stroke-width="5"/>
<ellipse cx="946" cy="160" rx="70" ry="104" fill="#ff0000" filter="url(#fuzz)"/>
<path d="M975,382C930,430 895,480 875,525L890,590L950,630L1000,636L1015,628C985,560 978,470 975,382Z" fill="#ffff00"/>
<path d="M935,748L985,795L1000,850L1000,940L985,990L945,1003L905,990L870,950L872,895L900,830Z" fill="#7f2e2c"/>
</svg>
<!-- ===== panel b: PET legend ===== -->
<svg x="602" y="398" width="85" height="85" viewBox="0 0 482 482" overflow="hidden">
<defs><filter id="hotf2" x="-80" y="-80" width="642" height="642" filterUnits="userSpaceOnUse" color-interpolation-filters="sRGB">
<feGaussianBlur in="SourceGraphic" stdDeviation="24" result="b"/>
<feComponentTransfer in="b">
<feFuncR type="table" tableValues="0 .32 .6 .82 .95 1 1 1 1 1 1"/>
<feFuncG type="table" tableValues="0 0 0 .03 .12 .32 .55 .78 .93 1 1"/>
<feFuncB type="table" tableValues="0 0 0 0 0 0 0 .03 .1 .3 .6"/>
</feComponentTransfer></filter></defs>
<g filter="url(#hotf2)"><rect x="-80" y="-80" width="642" height="642" fill="#545454"/><ellipse cx="420" cy="40" rx="80" ry="50" fill="#3d3d3d"/><ellipse cx="60" cy="40" rx="60" ry="50" fill="#333333"/><ellipse cx="330" cy="185" rx="115" ry="110" fill="#a3a3a3" transform="rotate(36 330 185)"/><ellipse cx="423" cy="227" rx="62" ry="62" fill="#9e9e9e"/><ellipse cx="394" cy="331" rx="72" ry="50" fill="#949494"/><ellipse cx="59" cy="123" rx="46" ry="32" fill="#858585"/><ellipse cx="5" cy="261" rx="32" ry="50" fill="#8f8f8f"/><ellipse cx="394" cy="472" rx="50" ry="25" fill="#9e9e9e"/><ellipse cx="140" cy="230" rx="60" ry="40" fill="#808080"/><ellipse cx="163" cy="34" rx="118" ry="62" fill="#080808"/><ellipse cx="122" cy="425" rx="180" ry="112" fill="#000000"/><ellipse cx="250" cy="400" rx="80" ry="50" fill="#141414"/><ellipse cx="40" cy="340" rx="60" ry="40" fill="#1a1a1a"/><ellipse cx="470" cy="420" rx="40" ry="50" fill="#474747"/><ellipse cx="292" cy="200" rx="50" ry="95" fill="#e6e6e6" transform="rotate(36 292 200)"/><ellipse cx="235" cy="275" rx="50" ry="46" fill="#e6e6e6"/><ellipse cx="120" cy="250" rx="90" ry="45" fill="#808080"/></g>
<path d="M270,8V482M8,241H482" stroke="#6a6ab0" stroke-width="3.2" stroke-dasharray="14 14" opacity=".85"/>
</svg>
<g>
<circle cx="744.8" cy="367.8" r="17.2" fill="#f2b705" stroke="#ee8a3c" stroke-width="1.3"/><path d="M732.6,355.6L757,380M757,355.6L732.6,380" stroke="#ee8a3c" stroke-width="1.2"/>
<polygon points="744.8,410.2 747.0,415.4 751.0,411.4 751.1,417.1 756.3,415.0 754.2,420.2 759.9,420.3 755.9,424.3 761.1,426.5 755.9,428.7 759.9,432.7 754.2,432.8 756.3,438.0 751.1,435.9 751.0,441.6 747.0,437.6 744.8,442.8 742.6,437.6 738.6,441.6 738.5,435.9 733.3,438.0 735.4,432.8 729.7,432.7 733.7,428.7 728.5,426.5 733.7,424.3 729.7,420.3 735.4,420.2 733.3,415.0 738.5,417.1 738.6,411.4 742.6,415.4" fill="#7030a0"/>
<polygon points="744.8,473.4 748.3,484.5 758.7,479.1 753.3,489.5 764.4,493.0 753.3,496.5 758.7,506.9 748.3,501.5 744.8,512.6 741.3,501.5 730.9,506.9 736.3,496.5 725.2,493.0 736.3,489.5 730.9,479.1 741.3,484.5" fill="#3c62b0" stroke="#2f5597" stroke-width=".6"/><circle cx="744.8" cy="493" r="7.4" fill="#4a78cc"/>
</g>
<!-- ===== panel b: image row ===== -->
<svg x="580" y="617.5" width="94" height="97.1" viewBox="0 0 543 439" preserveAspectRatio="none" overflow="hidden"><use href="#mT" width="543" height="439"/><path d="M262,0V439M0,178H543" stroke="#3b3bb0" stroke-width="2" stroke-dasharray="6 6" opacity=".7"/><g fill="#e09a00"><rect x="267.5" y="429" width="8" height="6"/><rect x="4" y="216.5" width="8" height="6"/><rect x="531" y="216.5" width="8" height="6"/></g><rect x="453" y="430" width="82" height="3" fill="#3a9a2a"/><use href="#thA" x="2" y="327" width="118" height="110"/></svg><rect x="580" y="617.5" width="52.2" height="12.5" fill="#fff"/><text x="582.4" y="627.1" font-size="10.2" font-weight="bold" fill="#111">T1W MRI</text>
<svg x="688.3" y="617.5" width="94.1" height="97.1" viewBox="0 0 543 439" preserveAspectRatio="none" overflow="hidden"><use href="#pT" width="543" height="439"/><path d="M262,0V439M0,178H543" stroke="#3b3bb0" stroke-width="2" stroke-dasharray="6 6" opacity=".7"/><g fill="#e09a00"><rect x="267.5" y="429" width="8" height="6"/><rect x="4" y="216.5" width="8" height="6"/><rect x="531" y="216.5" width="8" height="6"/></g><rect x="453" y="430" width="82" height="3" fill="#3a9a2a"/><use href="#thA" x="2" y="327" width="118" height="110"/></svg><rect x="688.3" y="617.5" width="50.5" height="12.5" fill="#fff"/><text x="690.6999999999999" y="627.1" font-size="10.2" font-weight="bold" fill="#111">FDG PET</text>
<rect x="796.9" y="616.3" width="94.2" height="98.3" fill="#c00000"/><rect x="796.9" y="616.3" width="31.8" height="13.7" fill="#fff"/><text x="799.5" y="625.6" font-size="10.2" font-weight="bold" fill="#111">Mask</text>
<path d="M835.3,657C835,652 838,649.5 842,650.2C846.5,650.5 849.5,653.5 849,657.5C849,662 846,664.5 842,664.5C838,664.5 835.3,661.5 835.3,657Z" fill="#3c78d8"/><ellipse cx="841.7" cy="655.3" rx="3.2" ry="2.9" fill="#6ab040"/>
<!-- ===== panel b: feature row (shape/texture/histogram/wavelet) ===== -->
<svg x="555" y="745" width="180" height="85" viewBox="0 0 1920 907">
<g fill="#fbc55b"><circle cx="400" cy="460" r="300"/><circle cx="210" cy="270" r="115"/><circle cx="340" cy="195" r="95"/><circle cx="470" cy="165" r="75"/><circle cx="600" cy="170" r="75"/><circle cx="680" cy="265" r="75"/><circle cx="705" cy="400" r="60"/><circle cx="680" cy="520" r="85"/><circle cx="590" cy="650" r="85"/><circle cx="420" cy="735" r="90"/><circle cx="240" cy="700" r="95"/><circle cx="135" cy="560" r="95"/><circle cx="115" cy="420" r="75"/></g>
<g fill="#fdeccb"><path d="M60,370C90,300 170,240 260,235C180,290 140,380 125,460C100,430 90,400 60,370Z"/><ellipse cx="545" cy="185" rx="38" ry="12" transform="rotate(35 545 185)"/><ellipse cx="573" cy="265" rx="20" ry="14"/><path d="M655,195C690,210 725,250 735,300C700,270 670,240 655,195Z"/><ellipse cx="462" cy="455" rx="32" ry="20" transform="rotate(-20 462 455)"/><ellipse cx="100" cy="660" rx="40" ry="18" transform="rotate(25 100 660)"/><ellipse cx="450" cy="735" rx="22" ry="14" transform="rotate(-25 450 735)"/></g>
<ellipse cx="595" cy="630" rx="32" ry="22" fill="#fdd88a"/>
<rect x="975" y="140" width="713" height="655" fill="#fff"/>
<rect x="975" y="140" width="147" height="493" fill="#ffc000"/>
<rect x="1405" y="303" width="138" height="492" fill="#4472c4"/>
<path d="M975,140V795M1122,140V795M1263,140V795M1405,140V795M1543,140V795M1688,140V795M975,140H1688M975,303H1688M975,468H1688M975,633H1688M975,795H1688" stroke="#1a1a1a" stroke-width="9" fill="none" stroke-linecap="square"/>
<g font-size="78" text-anchor="middle" fill="#222">
<text x="1051.5" y="249.5">2</text>
<text x="1195.5" y="249.5">3</text>
<text x="1337.0" y="249.5">7</text>
<text x="1477.0" y="249.5">3</text>
<text x="1618.5" y="249.5">1</text>
<text x="1051.5" y="413.5">3</text>
<text x="1195.5" y="413.5">4</text>
<text x="1337.0" y="413.5">2</text>
<text x="1477.0" y="413.5">2</text>
<text x="1618.5" y="413.5">5</text>
<text x="1051.5" y="578.5">1</text>
<text x="1195.5" y="578.5">6</text>
<text x="1337.0" y="578.5">8</text>
<text x="1477.0" y="578.5">0</text>
<text x="1618.5" y="578.5">6</text>
<text x="1051.5" y="742.0">7</text>
<text x="1195.5" y="742.0">2</text>
<text x="1337.0" y="742.0">7</text>
<text x="1477.0" y="742.0">9</text>
<text x="1618.5" y="742.0">4</text>
</g></svg>
<svg x="730" y="745" width="180" height="85" viewBox="0 0 1920 907">
<rect x="97" y="118" width="723" height="702" fill="#fff"/><path d="M97,128H820M97,262H820M97,395H820M97,528H820M97,660H820" stroke="#eef0f3" stroke-width="5"/>
<path d="M213,655L245,588V820H213Z" fill="#3b9af7"/>
<rect x="97" y="685" width="58" height="135" rx="6" fill="#3595f7"/><rect x="97" y="695" width="58" height="125" fill="#3595f7"/>
<rect x="160" y="642" width="53" height="178" rx="6" fill="#1e86f5"/><rect x="160" y="652" width="53" height="168" fill="#1e86f5"/>
<rect x="245" y="588" width="50" height="232" rx="6" fill="#3595f7"/><rect x="245" y="598" width="50" height="222" fill="#3595f7"/>
<rect x="300" y="558" width="50" height="262" rx="6" fill="#1e86f5"/><rect x="300" y="568" width="50" height="252" fill="#1e86f5"/>
<rect x="358" y="430" width="54" height="390" rx="6" fill="#3595f7"/><rect x="358" y="440" width="54" height="380" fill="#3595f7"/>
<rect x="417" y="172" width="53" height="648" rx="6" fill="#1e86f5"/><rect x="417" y="182" width="53" height="638" fill="#1e86f5"/>
<rect x="475" y="485" width="52" height="335" rx="6" fill="#3595f7"/><rect x="475" y="495" width="52" height="325" fill="#3595f7"/>
<rect x="533" y="578" width="52" height="242" rx="6" fill="#1e86f5"/><rect x="533" y="588" width="52" height="232" fill="#1e86f5"/>
<rect x="590" y="648" width="50" height="172" rx="6" fill="#3595f7"/><rect x="590" y="658" width="50" height="162" fill="#3595f7"/>
<rect x="648" y="708" width="52" height="112" rx="6" fill="#1e86f5"/><rect x="648" y="718" width="52" height="102" fill="#1e86f5"/>
<rect x="705" y="762" width="52" height="58" rx="6" fill="#3595f7"/><rect x="705" y="772" width="52" height="48" fill="#3595f7"/>
<rect x="762" y="790" width="58" height="30" rx="6" fill="#1e86f5"/><rect x="762" y="800" width="58" height="20" fill="#1e86f5"/>
<rect x="436" y="762" width="14" height="24" fill="#9bb7c9"/>
<defs><linearGradient id="wvu" x1="1057" x2="1780" gradientUnits="userSpaceOnUse"><stop offset="0" stop-color="#8ed4a0"/><stop offset=".45" stop-color="#a5d87a"/><stop offset=".7" stop-color="#bcd916"/><stop offset="1" stop-color="#d2c410"/></linearGradient>
<linearGradient id="wvd" x1="1057" x2="1780" gradientUnits="userSpaceOnUse"><stop offset="0" stop-color="#f8d9a0"/><stop offset=".5" stop-color="#f5c08a"/><stop offset=".62" stop-color="#f3a08a"/><stop offset=".74" stop-color="#f2431c"/><stop offset="1" stop-color="#f28a12"/></linearGradient>
<linearGradient id="wvf" x1="0" y1="432" x2="0" y2="830" gradientUnits="userSpaceOnUse"><stop offset="0" stop-color="#fff" stop-opacity="0"/><stop offset="1" stop-color="#fff" stop-opacity=".55"/></linearGradient></defs>
<rect x="1057" y="108" width="723" height="722" fill="#f5f5f5"/><path d="M1057,210H1780M1057,320H1780M1057,540H1780M1057,640H1780M1057,740H1780" stroke="#ececec" stroke-width="4"/>
<path d="M1127,432C1159.5,432 1168.0,403.5 1177,375C1186.0,403.5 1194.5,432 1227,432ZM1225,432C1269.2,432 1280.76,350.0 1293,268C1305.24,350.0 1316.8,432 1361,432ZM1347,432C1392.5,432 1404.4,308.5 1417,185C1429.6,308.5 1441.5,432 1487,432ZM1463,432C1516.3,432 1530.24,277.0 1545,122C1559.76,277.0 1573.7,432 1627,432ZM1589,432C1638.4,432 1651.32,351.0 1665,270C1678.68,351.0 1691.6,432 1741,432ZM1057,420C1100,425 1110,450 1150,432L1780,425V440H1057Z" fill="url(#wvu)"/>
<path d="M1174,426C1210.4,426 1219.92,494.0 1230,562C1240.08,494.0 1249.6,426 1286,426ZM1292,426C1329.7,426 1339.56,509.0 1350,592C1360.44,509.0 1370.3,426 1408,426ZM1406,426C1446.3,426 1456.84,624.0 1468,822C1479.16,624.0 1489.7,426 1530,426ZM1525,426C1569.2,426 1580.76,557.0 1593,688C1605.24,557.0 1616.8,426 1661,426ZM1651,426C1693.9,426 1705.12,489.0 1717,552C1728.88,489.0 1740.1,426 1783,426ZM1200,426H1780V446H1200Z" fill="url(#wvd)"/>
<path d="M1413,432C1448.75,432 1458.1,627.0 1468,822C1477.9,627.0 1487.25,432 1523,432Z" fill="url(#wvf)"/>
</svg>
<!-- ===== panel b: filter row (z-scale/auc/spearson/lasso) ===== -->
<svg x="555" y="880" width="180" height="85" viewBox="0 0 1920 907">
<rect x="235" y="180" width="380" height="12" fill="#c9c9c9" opacity=".8"/>
<path d="M110,262H740M110,330H740M110,400H740M110,465H740M110,535H740M110,602H740M110,668H740" stroke="#ebebeb" stroke-width="4"/>
<path d="M110,205V735H740" stroke="#d6d6d6" stroke-width="5" fill="none"/>
<path d="M176.0,463V603M154.0,463H198.0M154.0,603H198.0" stroke="#bdbdbd" stroke-width="4"/><rect x="135" y="515" width="82" height="38" fill="#e3a818" stroke="#b98a10" stroke-width="4"/><path d="M135,534.0H217" stroke="#b98a10" stroke-width="4"/>
<path d="M385.0,230V570M363.0,230H407.0M363.0,570H407.0" stroke="#bdbdbd" stroke-width="4"/><rect x="343" y="355" width="84" height="93" fill="#e3a818" stroke="#b98a10" stroke-width="4"/><path d="M343,401.5H427" stroke="#b98a10" stroke-width="4"/>
<path d="M595.0,378V550M573.0,378H617.0M573.0,550H617.0" stroke="#bdbdbd" stroke-width="4"/><rect x="553" y="432" width="84" height="58" fill="#e3a818" stroke="#b98a10" stroke-width="4"/><path d="M553,461.0H637" stroke="#b98a10" stroke-width="4"/>
<path d="M258.5,633V700M236.5,633H280.5M236.5,700H280.5" stroke="#bdbdbd" stroke-width="4"/><rect x="217" y="660" width="83" height="20" fill="#c0602a" stroke="#a8521f" stroke-width="4"/><path d="M217,670.0H300" stroke="#a8521f" stroke-width="4"/>
<path d="M470.0,633V700M448.0,633H492.0M448.0,700H492.0" stroke="#bdbdbd" stroke-width="4"/><rect x="428" y="660" width="84" height="20" fill="#c0602a" stroke="#a8521f" stroke-width="4"/><path d="M428,670.0H512" stroke="#a8521f" stroke-width="4"/>
<path d="M678.5,635V703M656.5,635H700.5M656.5,703H700.5" stroke="#bdbdbd" stroke-width="4"/><rect x="637" y="657" width="83" height="23" fill="#c0602a" stroke="#a8521f" stroke-width="4"/><path d="M637,668.5H720" stroke="#a8521f" stroke-width="4"/>
<rect x="632" y="238" width="18" height="14" fill="#e3a818"/><rect x="632" y="260" width="18" height="14" fill="#c0602a"/><rect x="656" y="262" width="80" height="9" fill="#d9d9d9"/><rect x="656" y="241" width="30" height="9" fill="#d9d9d9"/>
<g fill="#c4c4c4"><rect x="195" y="740" width="45" height="11"/><rect x="405" y="740" width="45" height="11"/><rect x="613" y="740" width="45" height="11"/><rect x="408" y="765" width="40" height="11"/><rect x="95" y="258" width="10" height="9"/><rect x="95" y="326" width="10" height="9"/><rect x="95" y="396" width="10" height="9"/><rect x="95" y="461" width="10" height="9"/><rect x="95" y="531" width="10" height="9"/><rect x="95" y="598" width="10" height="9"/><rect x="95" y="664" width="10" height="9"/><rect x="84" y="450" width="10" height="40"/></g>
<path d="M782,95V805" stroke="#f0f0f0" stroke-width="3"/>
<rect x="985" y="143" width="623" height="625" fill="#fff" stroke="#e2e2e2" stroke-width="4"/>
<rect x="1008" y="160" width="582" height="587" fill="#ebebeb"/>
<path d="M1015,745C1040,720 1050,640 1060,560C1072,440 1085,310 1105,250C1125,195 1160,170 1200,168H1588V745Z" fill="#87ceeb"/><path d="M1015,745L1588,168" stroke="#a9bfcb" stroke-width="3"/><path d="M1015,745C1040,720 1050,640 1060,560C1072,440 1085,310 1105,250C1125,195 1160,170 1200,168H1588" fill="none" stroke="#f0686a" stroke-width="6"/>
<text x="1385" y="478" font-size="34" font-weight="bold" fill="#e02838" text-anchor="middle">AUC: 0.991</text>
<text x="1300" y="127" font-size="30" font-weight="bold" fill="#222" text-anchor="middle">ROC curve of test</text>
<g font-size="32" font-weight="bold" fill="#222" text-anchor="middle"><text x="1010" y="816">0.0</text><text x="1125" y="816">0.2</text><text x="1240" y="816">0.4</text><text x="1355" y="816">0.6</text><text x="1470" y="816">0.8</text><text x="1585" y="816">1.0</text><text x="1300" y="860">1 - Specificity</text></g>
<g font-size="32" font-weight="bold" fill="#222" text-anchor="middle"><text transform="translate(955 160) rotate(-90)">1.0</text><text transform="translate(955 280) rotate(-90)">0.8</text><text transform="translate(955 400) rotate(-90)">0.6</text><text transform="translate(955 515) rotate(-90)">0.4</text><text transform="translate(955 630) rotate(-90)">0.2</text><text transform="translate(955 745) rotate(-90)">0.0</text><text transform="translate(915 455) rotate(-90)">Sensitivity</text></g>
<path d="M1010,768v12M1125,768v12M1240,768v12M1355,768v12M1470,768v12M1585,768v12M985,160h-12M985,280h-12M985,400h-12M985,515h-12M985,630h-12M985,745h-12" stroke="#888" stroke-width="3"/>
</svg>
<svg x="720" y="880" width="180" height="85" viewBox="0 0 1920 907">
<rect x="140" y="140.0" width="130.5" height="126.1" fill="#f2cbb7"/>
<rect x="270" y="140.0" width="130.5" height="126.1" fill="#3b4cc0"/>
<rect x="400" y="140.0" width="130.5" height="126.1" fill="#f4a886"/>
<rect x="530" y="140.0" width="130.5" height="126.1" fill="#e8765c"/>
<rect x="660" y="140.0" width="130.5" height="126.1" fill="#dddcdc"/>
<rect x="140" y="265.6" width="130.5" height="126.1" fill="#dddcdc"/>
<rect x="270" y="265.6" width="130.5" height="126.1" fill="#d44e41"/>
<rect x="400" y="265.6" width="130.5" height="126.1" fill="#b9d0f9"/>
<rect x="530" y="265.6" width="130.5" height="126.1" fill="#e2dad5"/>
<rect x="660" y="265.6" width="130.5" height="126.1" fill="#d5dbe5"/>
<rect x="140" y="391.2" width="130.5" height="126.1" fill="#ccd9ee"/>
<rect x="270" y="391.2" width="130.5" height="126.1" fill="#f2cbb7"/>
<rect x="400" y="391.2" width="130.5" height="126.1" fill="#f5b89c"/>
<rect x="530" y="391.2" width="130.5" height="126.1" fill="#3b4cc0"/>
<rect x="660" y="391.2" width="130.5" height="126.1" fill="#afc8f8"/>
<rect x="140" y="516.8" width="130.5" height="126.1" fill="#dddcdc"/>
<rect x="270" y="516.8" width="130.5" height="126.1" fill="#f4c0a6"/>
<rect x="400" y="516.8" width="130.5" height="126.1" fill="#3e51c5"/>
<rect x="530" y="516.8" width="130.5" height="126.1" fill="#ee8669"/>
<rect x="660" y="516.8" width="130.5" height="126.1" fill="#5e7de6"/>
<rect x="140" y="642.4" width="130.5" height="126.1" fill="#9ebeff"/>
<rect x="270" y="642.4" width="130.5" height="126.1" fill="#edd1c2"/>
<rect x="400" y="642.4" width="130.5" height="126.1" fill="#ea7b60"/>
<rect x="530" y="642.4" width="130.5" height="126.1" fill="#6788ee"/>
<rect x="660" y="642.4" width="130.5" height="126.1" fill="#f5b394"/>
<g font-size="28" text-anchor="middle" font-weight="bold">
<text x="205.0" y="211" fill="#444" opacity=".85">0.11</text>
<text x="335.0" y="211" fill="#f4f4f4" opacity=".85">-0.46</text>
<text x="465.0" y="211" fill="#444" opacity=".85">0.23</text>
<text x="595.0" y="211" fill="#f4f4f4" opacity=".85">0.31</text>
<text x="725.0" y="211" fill="#444" opacity=".85">0.0086</text>
<text x="205.0" y="336" fill="#444" opacity=".85">0.0013</text>
<text x="335.0" y="336" fill="#f4f4f4" opacity=".85">0.4</text>
<text x="465.0" y="336" fill="#444" opacity=".85">-0.12</text>
<text x="595.0" y="336" fill="#444" opacity=".85">0.013</text>
<text x="725.0" y="336" fill="#444" opacity=".85">-0.028</text>
<text x="205.0" y="462" fill="#444" opacity=".85">-0.067</text>
<text x="335.0" y="462" fill="#444" opacity=".85">0.1</text>
<text x="465.0" y="462" fill="#444" opacity=".85">0.18</text>
<text x="595.0" y="462" fill="#f4f4f4" opacity=".85">-0.46</text>
<text x="725.0" y="462" fill="#444" opacity=".85">-0.14</text>
<text x="205.0" y="588" fill="#444" opacity=".85">0.0068</text>
<text x="335.0" y="588" fill="#444" opacity=".85">0.15</text>
<text x="465.0" y="588" fill="#f4f4f4" opacity=".85">-0.47</text>
<text x="595.0" y="588" fill="#f4f4f4" opacity=".85">0.28</text>
<text x="725.0" y="588" fill="#f4f4f4" opacity=".85">-0.36</text>
<text x="205.0" y="713" fill="#444" opacity=".85">-0.18</text>
<text x="335.0" y="713" fill="#444" opacity=".85">0.071</text>
<text x="465.0" y="713" fill="#f4f4f4" opacity=".85">0.29</text>
<text x="595.0" y="713" fill="#f4f4f4" opacity=".85">-0.32</text>
<text x="725.0" y="713" fill="#444" opacity=".85">0.17</text>
</g>
<defs><linearGradient id="cwb" x1="0" y1="0" x2="0" y2="1"><stop offset="0" stop-color="#d44e41"/><stop offset=".25" stop-color="#f4a886"/><stop offset=".45" stop-color="#dddcdc"/><stop offset=".7" stop-color="#9ebeff"/><stop offset="1" stop-color="#3b4cc0"/></linearGradient></defs><rect x="825" y="140" width="28" height="628" fill="url(#cwb)"/>
<g font-size="30" fill="#333" font-weight="bold"><text x="462" y="122" text-anchor="middle">Heatmap</text><text x="866" y="219">0.3</text><text x="866" y="289">0.2</text><text x="866" y="361">0.1</text><text x="866" y="431">0.0</text><text x="866" y="502">-0.1</text><text x="866" y="572">-0.2</text><text x="866" y="642">-0.3</text><text x="866" y="714">-0.4</text><text x="205" y="808" text-anchor="middle">0</text><text x="335" y="808" text-anchor="middle">1</text><text x="462" y="808" text-anchor="middle">2</text><text x="593" y="808" text-anchor="middle">3</text><text x="722" y="808" text-anchor="middle">4</text><text x="108" y="210" text-anchor="middle" font-size="26">0</text><text x="108" y="335" text-anchor="middle" font-size="26">1</text><text x="108" y="460" text-anchor="middle" font-size="26">2</text><text x="108" y="585" text-anchor="middle" font-size="26">3</text><text x="108" y="712" text-anchor="middle" font-size="26">4</text></g>
<path d="M853,210h10M853,280h10M853,352h10M853,422h10M853,493h10M853,563h10M853,633h10M853,705h10M124,203h14M124,328h14M124,454h14M124,580h14M124,705h14" stroke="#666" stroke-width="3"/>
<rect x="1210" y="145" width="675" height="637" fill="#fff" stroke="#dcdcdc" stroke-width="5"/>
<path d="M1240,172C1330,290 1420,420 1500,520C1540,560 1580,560 1610,590C1640,640 1670,690 1705,688C1760,680 1810,620 1860,575L1860,605C1810,680 1760,750 1705,760C1670,760 1640,720 1600,720C1560,725 1530,725 1500,715C1410,670 1320,610 1240,570Z" fill="#efefef" stroke="#e3e3e3" stroke-width="3"/>
<path d="M1698,150V780M1765,150V780" stroke="#d9d9d9" stroke-width="4"/>
<rect x="1312" y="603" width="113" height="37" rx="12" fill="#f8cbcb"/>
<path d="M1240,370C1300,420 1350,465 1400,512C1440,550 1470,585 1500,610C1530,635 1560,635 1600,645C1630,665 1660,715 1700,722C1740,722 1780,690 1800,662C1820,640 1840,612 1856,588" fill="none" stroke="#f06464" stroke-width="8" stroke-linecap="round"/>
<g fill="#9a9a9a"><rect x="1230" y="110" width="18" height="16"/><rect x="1267" y="110" width="18" height="16"/><rect x="1304" y="110" width="18" height="16"/><rect x="1341" y="110" width="18" height="16"/><rect x="1378" y="110" width="18" height="16"/><rect x="1415" y="110" width="18" height="16"/><rect x="1452" y="110" width="18" height="16"/><rect x="1489" y="110" width="18" height="16"/><rect x="1526" y="110" width="18" height="16"/><rect x="1563" y="110" width="18" height="16"/><rect x="1600" y="110" width="18" height="16"/><rect x="1637" y="110" width="18" height="16"/><rect x="1674" y="110" width="18" height="16"/><rect x="1711" y="110" width="18" height="16"/><rect x="1748" y="110" width="18" height="16"/><rect x="1785" y="110" width="18" height="16"/><rect x="1822" y="110" width="18" height="16"/><rect x="1859" y="110" width="18" height="16"/><rect x="1175" y="282" width="14" height="16"/><rect x="1175" y="422" width="14" height="16"/><rect x="1175" y="562" width="14" height="16"/><rect x="1175" y="700" width="14" height="16"/><rect x="1315" y="804" width="20" height="14"/><rect x="1450" y="804" width="20" height="14"/><rect x="1585" y="804" width="20" height="14"/><rect x="1720" y="804" width="20" height="14"/><rect x="1850" y="804" width="20" height="14"/><rect x="1520" y="842" width="50" height="13"/><rect x="1136" y="395" width="14" height="140"/></g>
<path d="M1196,290h14M1196,430h14M1196,570h14M1196,708h14M1325,782v10M1460,782v10M1595,782v10M1730,782v10M1860,782v10" stroke="#aaa" stroke-width="3"/>
</svg>
<!-- ===== panel c: hospital ===== -->
<svg x="1035" y="118" width="340" height="230" viewBox="0 0 1597 1080">
<rect x="28" y="18" width="1520" height="1037" rx="155" fill="#e6e7e9"/>
<path d="M243,268Q243,208 303,208H1270Q1330,208 1330,268V345L1360,350L1475,465V890Q1475,925 1440,925H350Q320,925 300,900L243,700Z" fill="#c6ccd3"/>
<rect x="950" y="290" width="112" height="70" rx="12" fill="#9da8b4"/>
<rect x="497" y="268" width="140" height="90" rx="12" fill="#fcfcfc"/>
<rect x="212" y="338" width="430" height="360" rx="16" fill="#fcfcfc"/>
<rect x="980" y="338" width="380" height="360" rx="16" fill="#fcfcfc"/>
<rect x="952" y="345" width="48" height="335" fill="#c3c9d0"/>
<rect x="248" y="371" width="372" height="304" fill="#e4e5e8" stroke="#c3c9d0" stroke-width="8"/><path d="M428,371V675M248,530H620" stroke="#c3c9d0" stroke-width="8"/>
<rect x="1003" y="371" width="327" height="304" fill="#e4e5e8" stroke="#c3c9d0" stroke-width="8"/><path d="M1145,371V675M1003,530H1330" stroke="#c3c9d0" stroke-width="8"/>
<path d="M212,675H1360L1308,850Q1302,868 1285,868H290Q272,868 266,850Z" fill="#fcfcfc"/>
<path d="M620,230Q620,207 643,207H929Q952,207 952,230V868H620Z" fill="#fcfcfc"/>
<rect x="653" y="238" width="268" height="124" fill="#e4e5e8" stroke="#c3c9d0" stroke-width="7"/><path d="M785,238V362M653,272H921M653,318H921" stroke="#c3c9d0" stroke-width="6"/>
<rect x="750" y="428" width="75" height="214" rx="13" fill="#e85b5b"/><rect x="680" y="500" width="213" height="73" rx="13" fill="#e85b5b"/>
<g fill="#4a94a0"><polygon points="288,718 335,718 348,762 301,762"/><polygon points="405,718 455,718 468,762 418,762"/><polygon points="522,718 572,718 585,762 535,762"/><polygon points="660,718 712,718 717,762 665,762"/><polygon points="762,718 812,718 812,762 762,762"/><polygon points="862,718 915,718 910,762 857,762"/><polygon points="1000,718 1050,718 1037,762 987,762"/><polygon points="1118,718 1168,718 1155,762 1105,762"/><polygon points="1235,718 1285,718 1272,762 1222,762"/><polygon points="310,795 357,795 369,835 322,835"/><polygon points="425,795 472,795 484,835 437,835"/><polygon points="540,795 587,795 599,835 552,835"/><polygon points="985,795 1035,795 1023,835 973,835"/><polygon points="1098,795 1148,795 1136,835 1086,835"/><polygon points="1212,795 1262,795 1250,835 1200,835"/><polygon points="722,805 855,805 848,868 730,868"/></g><path d="M788,805V868" stroke="#356f7a" stroke-width="6"/>
<rect x="745" y="968" width="80" height="5" rx="2" fill="#eef0f1"/>
</svg>
<!-- plus -->
<path d="M1199,498.5h12v6h6v12h-6v6h-12v-6h-6v-12h6z" fill="#4472c4" stroke="#2f5597" stroke-width="1"/>
<!-- ===== panel c: curved arrows ===== -->
<svg x="1080" y="540" width="250" height="85" viewBox="0 0 1920 653">
<path d="M415,55C270,60 136,150 134,300L150,300C160,205 270,132 415,130Z" fill="#2e4a86"/>
<path d="M134,285C134,400 220,500 345,537L345,577L412,508L345,440L345,466C250,440 160,380 150,285Z" fill="#3a5fa8"/>
<path d="M1482,45C1640,50 1777,140 1778,300L1758,300C1752,205 1640,130 1482,128Z" fill="#3b5ea6"/>
<path d="M1775,285C1778,420 1690,500 1565,542L1565,583L1482,508L1565,412L1565,452C1660,430 1750,372 1758,285Z" fill="#4472c4" stroke="#2f5597" stroke-width="5" stroke-linejoin="round"/>
</svg>
<!-- ===== panel c: neural net ===== -->
<svg x="1050" y="615" width="295" height="155" viewBox="0 0 1920 1009">
<path d="M510,300L897,127M510,300L897,380M510,300L897,632M510,300L897,885M510,757L897,127M510,757L897,380M510,757L897,632M510,757L897,885" stroke="#222" stroke-width="5.5" fill="none"/>
<path d="M1057,127L1445,320M1057,127L1445,697M1057,632L1445,320M1057,632L1445,697M1057,885L1445,320M1057,885L1445,697" stroke="#222" stroke-width="5.5" fill="none"/>
<path d="M510,530L897,127M510,530L897,380M510,530L897,632M510,530L897,885" stroke="#f03030" stroke-width="5.5" fill="none"/>
<path d="M1057,380L1445,320M1057,380L1445,697" stroke="#9966cc" stroke-width="5.5" fill="none"/>
<g fill="#bdd7ee" stroke="#7fa3d6" stroke-width="4"><ellipse cx="430" cy="300" rx="78" ry="60"/><ellipse cx="430" cy="530" rx="78" ry="60"/><ellipse cx="430" cy="757" rx="78" ry="60"/><ellipse cx="977" cy="127" rx="78" ry="60"/><ellipse cx="977" cy="380" rx="78" ry="60"/><ellipse cx="977" cy="632" rx="78" ry="60"/><ellipse cx="977" cy="885" rx="78" ry="60"/><ellipse cx="1525" cy="320" rx="78" ry="60"/><ellipse cx="1525" cy="697" rx="78" ry="60"/></g>
<path d="M138,300H325" stroke="#111" stroke-width="5"/><polygon points="318,288 348,300 318,312" fill="#111"/><path d="M138,535H325" stroke="#111" stroke-width="5"/><polygon points="318,523 348,535 318,547" fill="#111"/><path d="M138,757H325" stroke="#111" stroke-width="5"/><polygon points="318,745 348,757 318,769" fill="#111"/><path d="M1605,322H1795" stroke="#111" stroke-width="5"/><polygon points="1786,310 1816,322 1786,334" fill="#111"/><path d="M1605,706H1795" stroke="#111" stroke-width="5"/><polygon points="1786,694 1816,706 1786,718" fill="#111"/>
<g font-family="Liberation Serif,serif" font-style="italic" font-size="62" fill="#222" style="font-family:'Liberation Serif',serif">
<text x="190" y="262" style="font-family:'Liberation Serif',serif">x<tspan font-size="40" dy="10" font-style="normal">1</tspan></text>
<text x="190" y="492" style="font-family:'Liberation Serif',serif">x<tspan font-size="40" dy="10" font-style="normal">2</tspan></text>
<text x="190" y="712" style="font-family:'Liberation Serif',serif">x<tspan font-size="40" dy="10" font-style="normal">3</tspan></text>
<text x="1675" y="282" style="font-family:'Liberation Serif',serif">y<tspan font-size="40" dy="10" font-style="normal">1</tspan></text>
<text x="1675" y="668" style="font-family:'Liberation Serif',serif">y<tspan font-size="40" dy="10" font-style="normal">2</tspan></text>
</g>
<g font-style="italic" font-size="52" fill="#ffc000" text-anchor="middle"><text x="412" y="440" style="font-family:'Liberation Serif',serif">i</text><text x="975" y="555" style="font-family:'Liberation Serif',serif">h</text><text x="1522" y="595" style="font-family:'Liberation Serif',serif">j</text></g>
<g font-style="italic" font-weight="bold" font-size="62" fill="#f01818"><text transform="translate(685 395) rotate(8)" style="font-family:'Liberation Serif',serif">w<tspan font-size="42" dy="12">ih</tspan></text><text transform="translate(1135 440) rotate(12)" style="font-family:'Liberation Serif',serif">w<tspan font-size="42" dy="12">hj</tspan></text></g>
</svg>
<!-- ===== panel c: outcome arrows + people ===== -->
<svg x="1015" y="795" width="385" height="175" viewBox="0 0 1920 873">
<path d="M765,25H832V210Q832,328 715,328H623V362L563,295L623,228V260H715Q765,260 765,210Z" fill="#fd2f47"/>
<path d="M1013,25H1080V210Q1080,260 1130,260H1225V228L1290,295L1225,362V328H1130Q1013,328 1013,210Z" fill="#3b3533"/>
<g fill="#fd2f47"><circle cx="160" cy="362" r="57"/><path d="M47,493Q47,428 108,428H212Q273,428 273,493V614a24,24 0 0 1 -48,0V528h-3V786a27,27 0 0 1 -54,0V643h-16V786a27,27 0 0 1 -54,0V528h-3V614a24,24 0 0 1 -48,0Z"/><rect x="146" y="402" width="28" height="40"/></g><g fill="#fd2f47"><circle cx="428" cy="362" r="57"/><path d="M315,493Q315,428 376,428H480Q541,428 541,493V614a24,24 0 0 1 -48,0V528h-3V786a27,27 0 0 1 -54,0V643h-16V786a27,27 0 0 1 -54,0V528h-3V614a24,24 0 0 1 -48,0Z"/><rect x="414" y="402" width="28" height="40"/></g><g fill="#3b3533"><circle cx="1423" cy="352" r="57"/><path d="M1310,483Q1310,418 1371,418H1475Q1536,418 1536,483V604a24,24 0 0 1 -48,0V518h-3V776a27,27 0 0 1 -54,0V633h-16V776a27,27 0 0 1 -54,0V518h-3V604a24,24 0 0 1 -48,0Z"/><rect x="1409" y="392" width="28" height="40"/></g><g fill="#3b3533"><circle cx="1690" cy="352" r="57"/><path d="M1577,483Q1577,418 1638,418H1742Q1803,418 1803,483V604a24,24 0 0 1 -48,0V518h-3V776a27,27 0 0 1 -54,0V633h-16V776a27,27 0 0 1 -54,0V518h-3V604a24,24 0 0 1 -48,0Z"/><rect x="1676" y="392" width="28" height="40"/></g>
</svg>
<!-- ===== panel d: ROC ===== -->
<svg x="1440" y="85" width="480" height="270" viewBox="0 0 1920 1080">
<rect x="377" y="292" width="1270" height="745" fill="#fff" stroke="#4d4d4d" stroke-width="4"/>
<path d="M377,1037L1647,292" stroke="#9a9a9a" stroke-width="3.5" stroke-dasharray="12 12"/>
<polyline points="435,1005 435,645 478,645 478,566 691,566 691,526 819,526 819,486 862,486 862,406 947,406 947,366 1033,366" fill="none" stroke="#ff7f00" stroke-width="5" stroke-linejoin="round"/>
<polyline points="478,526 563,526 563,486 819,486 819,446 862,446 862,366 1118,366 1118,326 1588,326" fill="none" stroke="#ffff33" stroke-width="5" stroke-linejoin="round"/>
<polyline points="435,1005 435,566 478,566 520,526 520,486 606,486 606,446 648,446 648,406 777,406 777,366 862,366" fill="none" stroke="#a65628" stroke-width="5" stroke-linejoin="round"/>
<polyline points="435,566 478,566 478,526 520,526 520,486 777,486 777,446 819,446 819,366 905,366 905,326 1033,326" fill="none" stroke="#f781bf" stroke-width="5" stroke-linejoin="round"/>
<polyline points="435,1005 435,725 478,725 478,486 691,486 691,446 734,446 734,366 862,366 862,326 1033,326" fill="none" stroke="#66c2a5" stroke-width="5" stroke-linejoin="round"/>
<polyline points="435,1005 435,606 520,606 520,486 606,486 606,446 648,446 648,406 819,406 819,366 947,366 990,326 1033,326" fill="none" stroke="#4daf4a" stroke-width="5" stroke-linejoin="round"/>
<polyline points="435,1005 563,645 777,406 1588,326" fill="none" stroke="#984ea3" stroke-width="5" stroke-linejoin="round"/>
<polyline points="435,1005 478,1005 478,645 563,645 563,486 648,486 648,406 819,406 819,366 1033,366 1033,326 1588,326" fill="none" stroke="#377eb8" stroke-width="5" stroke-linejoin="round"/>
<polyline points="435,1005 435,566 478,566 478,446 563,446 563,406 606,406 606,366 648,366 648,326 1588,326" fill="none" stroke="#e41a1c" stroke-width="5" stroke-linejoin="round"/>
<g font-size="40" fill="#4d4d4d" text-anchor="end"><text x="364" y="1019">0.0</text><text x="364" y="951">0.1</text><text x="364" y="883">0.2</text><text x="364" y="815">0.3</text><text x="364" y="747">0.4</text><text x="364" y="680">0.5</text><text x="364" y="612">0.6</text><text x="364" y="544">0.7</text><text x="364" y="476">0.8</text><text x="364" y="408">0.9</text><text x="364" y="340">1.0</text></g>
<g font-size="40" fill="#4d4d4d" text-anchor="middle"><text x="435" y="1080">0.0</text><text x="550" y="1080">0.1</text><text x="666" y="1080">0.2</text><text x="781" y="1080">0.3</text><text x="896" y="1080">0.4</text><text x="1012" y="1080">0.5</text><text x="1127" y="1080">0.6</text><text x="1242" y="1080">0.7</text><text x="1357" y="1080">0.8</text><text x="1473" y="1080">0.9</text><text x="1588" y="1080">1.0</text></g>
<text transform="translate(264 665) rotate(-90)" font-size="39.7" font-weight="bold" text-anchor="middle" fill="#111">Sensitivity (True Positive Rate)</text>
<text x="1148" y="613" font-size="29.5" font-weight="bold" fill="#111">Models</text>
<path d="M1150,651H1187" stroke="#984ea3" stroke-width="5"/><text x="1205" y="661" font-size="30" fill="#222">MRI Conventional (AUC=0.822)</text>
<path d="M1150,691H1187" stroke="#ff7f00" stroke-width="5"/><text x="1205" y="701" font-size="30" fill="#222">MRI Radiomics (AUC=0.861)</text>
<path d="M1150,731H1187" stroke="#ffff33" stroke-width="5"/><text x="1205" y="741" font-size="30" fill="#222">MRI Combined (AUC=0.893)</text>
<path d="M1150,771H1187" stroke="#a65628" stroke-width="5"/><text x="1205" y="781" font-size="30" fill="#222">PET Conventional (AUC=0.926)</text>
<path d="M1150,810H1187" stroke="#f781bf" stroke-width="5"/><text x="1205" y="820" font-size="30" fill="#222">PET Radiomics (AUC=0.889)</text>
<path d="M1150,850H1187" stroke="#66c2a5" stroke-width="5"/><text x="1205" y="860" font-size="30" fill="#222">PET Combined (AUC=0.922)</text>
<path d="M1150,890H1187" stroke="#4daf4a" stroke-width="5"/><text x="1205" y="900" font-size="30" fill="#222">ALL Conventional (AUC=0.92)</text>
<path d="M1150,930H1187" stroke="#377eb8" stroke-width="5"/><text x="1205" y="940" font-size="30" fill="#222">ALL Radiomics (AUC=0.882)</text>
<path d="M1150,970H1187" stroke="#e41a1c" stroke-width="5"/><text x="1205" y="980" font-size="30" fill="#222">ALL Combined (AUC=0.967)</text>
</svg>
<g font-size="10" fill="#4d4d4d" text-anchor="middle"><text x="1548.8" y="355.6">0.0</text><text x="1577.6" y="355.6">0.1</text><text x="1606.4" y="355.6">0.2</text><text x="1635.2" y="355.6">0.3</text><text x="1664.0" y="355.6">0.4</text><text x="1692.9" y="355.6">0.5</text><text x="1721.7" y="355.6">0.6</text><text x="1750.5" y="355.6">0.7</text><text x="1779.3" y="355.6">0.8</text><text x="1808.2" y="355.6">0.9</text><text x="1837.0" y="355.6">1.0</text></g>
<text x="1692.6" y="374.4" font-size="9.92" font-weight="bold" text-anchor="middle" fill="#111">1 - Specificity (False Positive Rate)</text>
<!-- ===== panel d: Calibration ===== -->
<svg x="1440" y="440" width="480" height="270" viewBox="0 -400 1920 1080">
<rect x="422" y="-282" width="1245" height="745" fill="#fff" stroke="#4d4d4d" stroke-width="4"/>
<path d="M425,463L1667,-282" stroke="#666" stroke-width="3.5" stroke-dasharray="10 12"/>
<path d="M505,418C518,412 556,396 580,380C604,364 627,348 650,320C673,292 698,245 720,210C742,175 762,135 780,110C798,85 810,75 830,60C850,45 872,37 900,22C928,7 967,-14 1000,-28C1033,-42 1070,-52 1100,-60C1130,-68 1167,-75 1180,-78" fill="none" stroke="#984ea3" stroke-width="6.5" stroke-linecap="round"/>
<path d="M520,430C527,428 530,431 560,415C590,399 657,356 700,335C743,314 783,303 820,290C857,277 890,268 920,255C950,242 970,232 1000,215C1030,198 1067,178 1100,155C1133,132 1158,112 1200,80C1242,48 1300,0 1350,-40C1400,-80 1459,-127 1500,-160C1541,-193 1582,-224 1598,-237" fill="none" stroke="#ff7f00" stroke-width="6.5" stroke-linecap="round"/>
<path d="M490,408C508,398 565,364 600,345C635,326 667,308 700,292C733,276 767,261 800,250C833,239 867,234 900,225C933,216 967,208 1000,195C1033,182 1067,168 1100,150C1133,132 1167,108 1200,85C1233,62 1258,44 1300,10C1342,-24 1404,-79 1450,-120C1496,-161 1554,-218 1575,-237" fill="none" stroke="#ffff33" stroke-width="6.5" stroke-linecap="round"/>
<path d="M545,425C554,418 574,402 600,380C626,358 670,314 700,290C730,266 753,248 780,235C807,222 823,218 860,210C897,202 960,198 1000,185C1040,172 1070,150 1100,130C1130,110 1155,87 1180,65C1205,43 1222,29 1250,0C1278,-29 1314,-71 1350,-110C1386,-149 1444,-214 1463,-235" fill="none" stroke="#a65628" stroke-width="6.5" stroke-linecap="round"/>
<path d="M490,420C498,408 522,374 540,350C558,326 577,296 600,275C623,254 652,234 680,222C708,210 740,204 770,205C800,206 828,217 860,225C892,233 933,248 960,252C987,256 1000,256 1020,250C1040,244 1062,233 1080,218C1098,203 1113,181 1130,160C1147,139 1155,120 1180,90C1205,60 1247,12 1280,-20C1313,-52 1347,-80 1380,-100C1413,-120 1450,-131 1480,-140C1510,-149 1540,-153 1560,-155C1580,-157 1592,-152 1598,-152" fill="none" stroke="#f781bf" stroke-width="6.5" stroke-linecap="round"/>
<path d="M490,415C508,402 565,362 600,340C635,318 667,298 700,282C733,266 767,254 800,245C833,236 867,234 900,225C933,216 967,204 1000,190C1033,176 1067,161 1100,140C1133,119 1170,88 1200,65C1230,42 1247,26 1280,0C1313,-26 1363,-66 1400,-90C1437,-114 1467,-128 1500,-145C1533,-162 1582,-184 1598,-192" fill="none" stroke="#66c2a5" stroke-width="6.5" stroke-linecap="round"/>
<path d="M490,415C502,403 538,364 560,345C582,326 593,320 620,300C647,280 690,244 720,225C750,206 770,200 800,188C830,176 867,166 900,155C933,144 967,137 1000,125C1033,113 1067,102 1100,85C1133,68 1167,49 1200,25C1233,1 1267,-31 1300,-60C1333,-89 1363,-119 1400,-150C1437,-181 1500,-231 1520,-247" fill="none" stroke="#4daf4a" stroke-width="6.5" stroke-linecap="round"/>
<path d="M490,425C508,421 565,410 600,400C635,390 667,380 700,368C733,356 767,341 800,325C833,309 867,290 900,270C933,250 967,228 1000,205C1033,182 1067,160 1100,135C1133,110 1167,82 1200,55C1233,28 1267,-4 1300,-25C1333,-46 1367,-60 1400,-72C1433,-84 1467,-91 1500,-100C1533,-109 1582,-121 1598,-125" fill="none" stroke="#377eb8" stroke-width="6.5" stroke-linecap="round"/>
<path d="M490,425C508,418 565,399 600,385C635,371 667,356 700,340C733,324 767,308 800,292C833,276 867,261 900,245C933,229 967,214 1000,198C1033,182 1067,166 1100,150C1133,134 1167,118 1200,100C1233,82 1267,60 1300,40C1333,20 1367,0 1400,-22C1433,-44 1467,-66 1500,-92C1533,-118 1582,-163 1598,-177" fill="none" stroke="#e41a1c" stroke-width="6.5" stroke-linecap="round"/>
<g font-size="40" fill="#7a7a7a" text-anchor="end"><text x="408" y="446">0.00</text><text x="408" y="276">0.25</text><text x="408" y="106">0.50</text><text x="408" y="-64">0.75</text><text x="408" y="-234">1.00</text></g>
<g font-size="40" fill="#7a7a7a" text-anchor="middle"><text x="478" y="507">0.00</text><text x="762" y="507">0.25</text><text x="1045" y="507">0.50</text><text x="1328" y="507">0.75</text><text x="1612" y="507">1.00</text></g>
<text transform="translate(286 90) rotate(-90)" font-size="39.7" font-weight="bold" text-anchor="middle" fill="#111">Observed Probability</text>
<text x="1045" y="581" font-size="39.5" font-weight="bold" text-anchor="middle" fill="#111">Predicted Probability</text>
<path d="M1222,130H1278" stroke="#984ea3" stroke-width="5"/><text x="1312" y="141" font-size="27.6" font-weight="bold" fill="#222">MRI Conventional (0.172)</text>
<path d="M1222,165H1278" stroke="#ff7f00" stroke-width="5"/><text x="1312" y="176" font-size="27.6" font-weight="bold" fill="#222">MRI Radiomics (0.129)</text>
<path d="M1222,200H1278" stroke="#ffff33" stroke-width="5"/><text x="1312" y="211" font-size="27.6" font-weight="bold" fill="#222">MRI Combined (0.106)</text>
<path d="M1222,235H1278" stroke="#a65628" stroke-width="5"/><text x="1312" y="246" font-size="27.6" font-weight="bold" fill="#222">PET Conventional (0.112)</text>
<path d="M1222,269H1278" stroke="#f781bf" stroke-width="5"/><text x="1312" y="280" font-size="27.6" font-weight="bold" fill="#222">PET Radiomics (0.15)</text>
<path d="M1222,305H1278" stroke="#66c2a5" stroke-width="5"/><text x="1312" y="316" font-size="27.6" font-weight="bold" fill="#222">PET Combined (0.118)</text>
<path d="M1222,340H1278" stroke="#4daf4a" stroke-width="5"/><text x="1312" y="351" font-size="27.6" font-weight="bold" fill="#222">ALL Conventional (0.116)</text>
<path d="M1222,375H1278" stroke="#377eb8" stroke-width="5"/><text x="1312" y="386" font-size="27.6" font-weight="bold" fill="#222">ALL Radiomics (0.132)</text>
<path d="M1222,410H1278" stroke="#e41a1c" stroke-width="5"/><text x="1312" y="421" font-size="27.6" font-weight="bold" fill="#222">ALL Combined (0.1)</text>
</svg>
<!-- ===== panel d: Decision ===== -->
<svg x="1440" y="760" width="480" height="270" viewBox="0 0 1920 1080">
<defs><clipPath id="dcc"><rect x="400" y="200" width="1190" height="568"/></clipPath></defs>
<path d="M412,315H1582M412,417H1582M412,518H1582M412,620H1582M637,200V768M862,200V768M1087,200V768M1312,200V768" stroke="#f2f2f2" stroke-width="3"/>
<g clip-path="url(#dcc)">
<polyline points="412,213 520,300 620,400 720,520 800,640 870,768" fill="none" stroke="#dedede" stroke-width="4" stroke-linejoin="round"/>
<path d="M412,720H1582" stroke="#bdbdbd" stroke-width="4"/>
<polyline points="412,213 470,255 520,295 560,310 620,330 700,360 780,395 860,430 950,500 1030,560 1100,590 1150,620 1200,660 1255,720 1527,720" fill="none" stroke="#984ea3" stroke-width="6" stroke-linejoin="round"/>
<polyline points="412,213 480,260 540,295 590,320 620,325 640,375 720,390 770,375 800,395 850,405 870,385 880,370 900,400 920,465 990,480 1000,455 1060,475 1075,437 1100,437 1115,472 1145,480 1160,510 1220,525 1400,560 1500,640 1527,690" fill="none" stroke="#ff7f00" stroke-width="6" stroke-linejoin="round"/>
<polyline points="412,213 480,275 520,290 570,310 650,345 700,360 710,340 725,375 790,370 800,350 810,385 900,400 960,395 975,365 990,395 1050,400 1130,415 1220,438 1400,480 1500,600 1527,680" fill="none" stroke="#ffff33" stroke-width="6" stroke-linejoin="round"/>
<polyline points="412,213 490,240 500,270 540,275 555,290 590,290 605,350 640,360 700,385 790,410 845,420 860,385 900,400 940,395 1000,400 1040,418 1055,385 1070,405 1130,420 1160,425 1175,362 1220,360 1400,400 1495,620 1527,690" fill="none" stroke="#a65628" stroke-width="6" stroke-linejoin="round"/>
<polyline points="412,213 480,260 520,295 570,315 640,320 650,365 680,395 695,423 710,405 730,418 750,405 790,425 810,465 820,465 830,440 890,470 920,400 935,405 940,385 965,385 985,440 1000,500 1030,520 1045,560 1075,567 1085,555 1100,590 1220,620 1230,625 1258,690 1300,712 1340,745 1352,768" fill="none" stroke="#f781bf" stroke-width="6" stroke-linejoin="round"/>
<polyline points="412,213 480,260 520,290 570,320 620,305 660,375 720,372 760,380 800,390 860,400 895,370 930,378 955,330 1000,335 1130,355 1175,362 1188,300 1200,300 1212,360 1220,362 1400,400 1500,600 1527,680" fill="none" stroke="#66c2a5" stroke-width="6" stroke-linejoin="round"/>
<polyline points="412,213 500,245 540,245 560,260 610,268 625,298 660,300 670,365 720,375 770,395 850,425 900,425 960,445 980,400 1000,420 1010,400 1080,420 1140,445 1158,393 1180,395 1190,405 1220,420 1400,450 1505,610 1527,690" fill="none" stroke="#4daf4a" stroke-width="6" stroke-linejoin="round"/>
<polyline points="412,213 470,245 520,265 570,285 580,310 640,315 650,300 690,310 700,305 720,340 730,330 780,345 795,375 810,370 860,385 885,445 900,425 950,440 965,480 1000,490 1020,525 1050,535 1085,555 1100,515 1135,525 1145,560 1187,585 1200,525 1220,528 1300,590 1345,625 1390,680 1400,725 1420,768" fill="none" stroke="#377eb8" stroke-width="6" stroke-linejoin="round"/>
<polyline points="412,213 470,237 500,240 530,237 550,270 590,272 620,280 650,275 680,280 710,263 760,270 775,298 830,308 880,315 900,348 950,358 1000,372 1040,378 1120,402 1135,358 1170,365 1175,395 1220,408 1400,440 1500,590 1527,680" fill="none" stroke="#e41a1c" stroke-width="6" stroke-linejoin="round"/>
<polyline points="1490,768 1492,690 1515,690 1527,720" fill="none" stroke="#377eb8" stroke-width="5" stroke-linejoin="round"/>
<polyline points="1510,768 1512,720" fill="none" stroke="#f781bf" stroke-width="5" stroke-linejoin="round"/>
</g>
<rect x="1220" y="192" width="362" height="433" fill="#fff" stroke="#b5b5b5" stroke-width="3"/>
<path d="M1245,231H1303" stroke="#984ea3" stroke-width="5"/><text x="1327" y="242" font-size="30" fill="#222">MRI Conventional</text>
<path d="M1245,267H1303" stroke="#ff7f00" stroke-width="5"/><text x="1327" y="278" font-size="30" fill="#222">MRI Radiomics</text>
<path d="M1245,303H1303" stroke="#ffff33" stroke-width="5"/><text x="1327" y="314" font-size="30" fill="#222">MRI Combined</text>
<path d="M1245,339H1303" stroke="#a65628" stroke-width="5"/><text x="1327" y="350" font-size="30" fill="#222">PET Conventional</text>
<path d="M1245,375H1303" stroke="#f781bf" stroke-width="5"/><text x="1327" y="386" font-size="30" fill="#222">PET Radiomics</text>
<path d="M1245,411H1303" stroke="#66c2a5" stroke-width="5"/><text x="1327" y="422" font-size="30" fill="#222">PET Combined</text>
<path d="M1245,447H1303" stroke="#4daf4a" stroke-width="5"/><text x="1327" y="458" font-size="30" fill="#222">ALL Conventional</text>
<path d="M1245,483H1303" stroke="#377eb8" stroke-width="5"/><text x="1327" y="494" font-size="30" fill="#222">ALL Radiomics</text>
<path d="M1245,519H1303" stroke="#e41a1c" stroke-width="5"/><text x="1327" y="530" font-size="30" fill="#222">ALL Combined</text>
<path d="M1245,555H1303" stroke="#e6e6e6" stroke-width="5"/><text x="1327" y="566" font-size="30" fill="#222">All</text>
<path d="M1245,591H1303" stroke="#c4c4c4" stroke-width="5"/><text x="1327" y="602" font-size="30" fill="#222">None</text>
<path d="M365,213V720M350,213H365M350,315H365M350,417H365M350,518H365M350,620H365M350,720H365" stroke="#6e6e6e" stroke-width="3.5" fill="none"/>
<path d="M412,768H1537M412,768v14M637,768v14M862,768v14M1087,768v14M1312,768v14M1537,768v14" stroke="#6e6e6e" stroke-width="3.5" fill="none"/>
<path d="M422,910H1527M422,910v14M637,910v14M862,910v14M1087,910v14M1312,910v14M1527,910v14" stroke="#6e6e6e" stroke-width="3.5" fill="none"/>
<g font-size="30" fill="#222" text-anchor="middle"><text transform="translate(324 720) rotate(-90)">0.0</text><text transform="translate(324 619) rotate(-90)">0.2</text><text transform="translate(324 517) rotate(-90)">0.4</text><text transform="translate(324 416) rotate(-90)">0.6</text><text transform="translate(324 314) rotate(-90)">0.8</text><text transform="translate(324 213) rotate(-90)">1.0</text><text transform="translate(253 480) rotate(-90)">Standardized Net Benefit</text><text x="412" y="832">0.0</text><text x="637" y="832">0.2</text><text x="862" y="832">0.4</text><text x="1087" y="832">0.6</text><text x="1312" y="832">0.8</text><text x="1537" y="832">1.0</text><text x="972" y="874">High Risk Threshold</text><text x="422" y="976">1:100</text><text x="637" y="976">1:4</text><text x="860" y="976">2:3</text><text x="1085" y="976">3:2</text><text x="1310" y="976">4:1</text><text x="1527" y="976">100:1</text><text x="972" y="1014">Cost:Benefit Ratio</text></g>
</svg>
</svg>
</body></html>
